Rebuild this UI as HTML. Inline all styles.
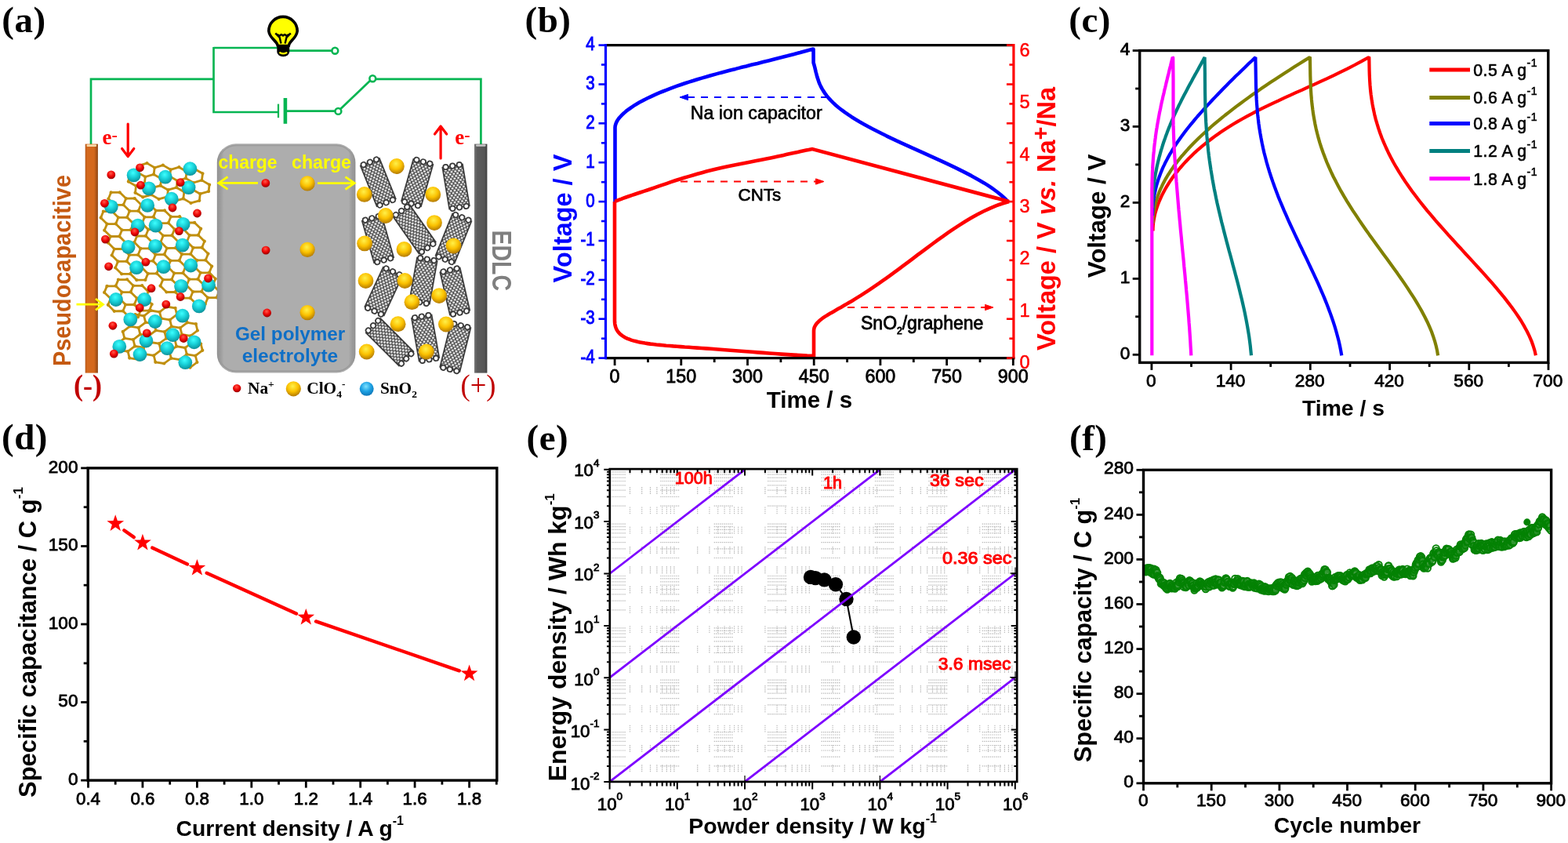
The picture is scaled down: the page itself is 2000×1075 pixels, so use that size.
<!DOCTYPE html>
<html lang="en">
<head>
<meta charset="utf-8">
<title>Na ion capacitor figure</title>
<style>html,body{margin:0;padding:0;background:#fff}body{width:2000px;height:1075px;overflow:hidden}svg{display:block}text{white-space:pre}</style>
</head>
<body>
<svg width="2000" height="1075" viewBox="0 0 2000 1075">
<defs><radialGradient id="gc" cx="0.45" cy="0.33" r="0.72"><stop offset="0" stop-color="#3dffff"/><stop offset="0.5" stop-color="#16ccd4"/><stop offset="1" stop-color="#0c8790"/></radialGradient>
<radialGradient id="gr" cx="0.45" cy="0.33" r="0.72"><stop offset="0" stop-color="#ff5a4a"/><stop offset="0.5" stop-color="#f00505"/><stop offset="1" stop-color="#860000"/></radialGradient>
<radialGradient id="gy" cx="0.45" cy="0.33" r="0.72"><stop offset="0" stop-color="#fff04a"/><stop offset="0.5" stop-color="#fbc100"/><stop offset="1" stop-color="#a86f00"/></radialGradient>
<radialGradient id="gb" cx="0.45" cy="0.33" r="0.72"><stop offset="0" stop-color="#7fe2ff"/><stop offset="0.5" stop-color="#1ea2e4"/><stop offset="1" stop-color="#0a6fb0"/></radialGradient>
<pattern id="hatch" width="4.8" height="6" patternUnits="userSpaceOnUse" x="-2.4" y="0"><rect width="4.8" height="6" fill="#424242"/><ellipse cx="2.4" cy="1.5" rx="1.55" ry="1.25" fill="#fff"/><ellipse cx="0" cy="4.5" rx="1.55" ry="1.25" fill="#fff"/><ellipse cx="4.8" cy="4.5" rx="1.55" ry="1.25" fill="#fff"/></pattern>
<linearGradient id="box" x1="0" y1="0" x2="1" y2="0"><stop offset="0" stop-color="#8c8c8c"/><stop offset="0.05" stop-color="#adadad"/><stop offset="0.95" stop-color="#adadad"/><stop offset="1" stop-color="#8c8c8c"/></linearGradient>
<linearGradient id="el" x1="0" y1="0" x2="1" y2="0"><stop offset="0" stop-color="#b5581a"/><stop offset="0.15" stop-color="#d4691e"/><stop offset="0.7" stop-color="#d4691e"/><stop offset="1" stop-color="#8d4513"/></linearGradient>
<linearGradient id="er" x1="0" y1="0" x2="1" y2="0"><stop offset="0" stop-color="#7a7a7a"/><stop offset="0.2" stop-color="#5c5c5c"/><stop offset="0.8" stop-color="#555"/><stop offset="1" stop-color="#3c3c3c"/></linearGradient></defs>
<rect width="2000" height="1075" fill="#fff"/>
<g id="panel-a">
<path d="M116 184V100.8H272.5M272.5 61H355M368 64.6H423.5M272.5 59.9V143H354.5M366 141.7H427.5M434 139.3L472.5 102.6M479 100.8H613.4V184" fill="none" stroke="#06b552" stroke-width="2.7"/>
<path d="M355 132.6V150.2" stroke="#06b552" stroke-width="2.2"/>
<path d="M363.9 125V157.8" stroke="#06b552" stroke-width="4.6"/>
<circle cx="427.3" cy="64.7" r="3.9" fill="#fff" stroke="#06b552" stroke-width="2.6"/>
<circle cx="431.4" cy="141.9" r="3.9" fill="#fff" stroke="#06b552" stroke-width="2.6"/>
<circle cx="475.3" cy="100.2" r="3.9" fill="#fff" stroke="#06b552" stroke-width="2.6"/>
<path d="M354.3 58.5C353.6 52 344 49.5 342.8 39.6A18.2 18.2 0 1 1 379.2 39.6C378 49.5 368.9 52 368.3 58.5Z" fill="#ffff00" stroke="#000" stroke-width="3.6" stroke-linejoin="round"/>
<path d="M353.3 57.5H369.2v8.8a7.9 5.8 0 0 1 -15.9 0Z" fill="#000"/>
<path d="M357.2 67.2q4 2.4 8.2 0" stroke="#ffff00" stroke-width="2.2" stroke-linecap="round" fill="none"/>
<path d="M351.3 42.3l5.4 5.6 1.8 7.6M370.8 42.3l-5.4 5.6 -1.8 7.6M352.5 43.5l4.3 2 2.1 -1.6 2.1 1.6 2.1 -1.6 2.1 1.6 4.3 -2" fill="none" stroke="#000" stroke-width="2.4" stroke-linejoin="round"/>
<rect x="108.7" y="183.6" width="16.2" height="292" fill="url(#el)"/>
<rect x="110.5" y="184.3" width="12.6" height="2.6" rx="1.2" fill="#f7d9a8"/>
<rect x="605" y="183.6" width="16.4" height="292" fill="url(#er)"/>
<rect x="607" y="184.3" width="12.6" height="2.4" rx="1.2" fill="#c8c8c8"/>
<text x="130.4" y="184.4" font-family='"Liberation Serif", serif' font-size="27" fill="#ff0000" font-weight="bold">e<tspan font-size="22" dy="-5.5">-</tspan></text>
<text x="580.2" y="184.2" font-family='"Liberation Serif", serif' font-size="27" fill="#ff0000" font-weight="bold">e<tspan font-size="22" dy="-5.5">-</tspan></text>
<path d="M163.2 158V199M155.6 189.5L163.2 199.6L170.8 189.5" fill="none" stroke="#ff0000" stroke-width="3.2" stroke-linejoin="round" stroke-linecap="round"/>
<path d="M562.1 202V161.5M554.5 171L562.1 161L569.7 171" fill="none" stroke="#ff0000" stroke-width="3.2" stroke-linejoin="round" stroke-linecap="round"/>
<text x="89.5" y="467" font-family='"Liberation Sans", sans-serif' font-size="31" fill="#c55a11" font-weight="bold" transform="rotate(-90 89.5 467)" textLength="244" lengthAdjust="spacingAndGlyphs">Pseudocapacitive</text>
<text x="628.3" y="293.5" font-family='"Liberation Sans", sans-serif' font-size="35" fill="#7f7f7f" font-weight="bold" transform="rotate(90 628.3 293.5)" textLength="77.5" lengthAdjust="spacingAndGlyphs">EDLC</text>
<text x="94" y="503.5" font-family='"Liberation Serif", serif' font-size="38" fill="#c00000" font-weight="bold" textLength="36" lengthAdjust="spacingAndGlyphs">(-)</text>
<text x="587.5" y="503.5" font-family='"Liberation Serif", serif' font-size="38" fill="#c00000" textLength="45" lengthAdjust="spacingAndGlyphs">(+)</text>
<path d="M97.5 388.2H130M122 381L131.5 388.2L122 395.4" fill="none" stroke="#ffff00" stroke-width="2.8"/>
<path d="M164.9 223L163.8 231.6M164.9 223L175.7 219.9M163.8 231.6L173.5 237.2M176.7 211.3L175.7 219.9M176.7 211.3L187.5 208.1M175.7 219.9L185.3 225.5M173.5 237.2L172.5 245.8M173.5 237.2L184.3 234M172.5 245.8L182.2 251.4M187.5 208.1L197.2 213.8M185.3 225.5L184.3 234M185.3 225.5L184.3 234.1M185.3 225.5L196.1 222.4M184.3 234L194 239.7M184.3 234.1L194 239.7M182.2 251.4L192.9 248.3M197.2 213.8L196.1 222.4M197.2 213.8L207.9 210.6M196.1 222.4L205.8 228M194 239.7L192.9 248.3M194 239.7L204.7 236.6M192.9 248.3L202.6 253.9M207.9 210.6L217.6 216.3M205.8 228L204.7 236.6M205.8 228L204.7 236.7M205.8 228L216.6 224.9M204.7 236.6L214.4 242.2M204.7 236.7L214.4 242.2M202.6 253.9L213.4 250.8M217.6 216.3L216.6 224.9M217.6 216.3L228.4 213.2M216.6 224.9L226.2 230.5M214.4 242.2L213.4 250.8M214.4 242.2L225.2 239.1M213.4 250.8L223.1 256.4M228.4 213.2L238.1 218.8M226.2 230.5L225.2 239.1M226.2 230.5L225.2 239.2M226.2 230.5L237 227.4M225.2 239.1L234.9 244.7M225.2 239.2L234.9 244.7M223.1 256.4L233.8 253.3M238.1 218.8L237 227.4M238.1 218.8L248.8 215.7M237 227.4L246.7 233M234.9 244.7L233.8 253.3M234.9 244.7L245.6 241.6M233.8 253.3L243.5 258.9M248.8 215.7L258.5 221.3M246.7 233L245.6 241.6M246.7 233L245.6 241.7M246.7 233L257.4 229.9M245.6 241.6L255.3 247.2M245.6 241.7L255.3 247.2M243.5 258.9L254.3 255.8M258.5 221.3L257.4 229.9M257.4 229.9L267.1 235.5M255.3 247.2L254.3 255.8M255.3 247.2L266.1 244.1M267.1 235.5L266.1 244.1M141.6 245.4L138.3 253.5M141.6 245.4L152.7 245.3M138.3 253.5L146.2 261.4M131.8 269.6L128.6 277.7M131.8 269.6L143 269.4M128.6 277.7L136.5 285.6M152.7 245.3L160.7 253.1M146.2 261.4L143 269.5M146.2 261.4L157.4 261.2M143 269.4L150.9 277.3M143 269.5L150.9 277.3M136.5 285.6L133.2 293.7M136.5 285.6L147.7 285.4M133.2 293.7L141.1 301.5M160.7 253.1L157.4 261.2M160.7 253.1L171.8 253M157.4 261.2L165.3 269.1M150.9 277.3L147.7 285.4M150.9 277.3L162.1 277.1M147.7 285.4L155.6 293.3M141.1 301.5L137.9 309.6M141.1 301.5L152.3 301.3M137.9 309.6L145.8 317.5M171.8 253L179.8 260.8M165.3 269.1L162.1 277.1M165.3 269.1L162.1 277.2M165.3 269.1L176.5 268.9M162.1 277.1L170 285M162.1 277.2L170 285M155.6 293.3L152.3 301.3M155.6 293.3L152.3 301.4M155.6 293.3L166.8 293.1M152.3 301.3L160.2 309.2M152.3 301.4L160.2 309.2M145.8 317.5L142.6 325.5M145.8 317.5L157 317.3M142.6 325.5L150.5 333.4M179.8 260.8L176.5 268.9M179.8 260.8L190.9 260.7M176.5 268.9L184.4 276.8M170 285L166.8 293.1M170 285L181.2 284.8M166.8 293.1L174.7 301M160.2 309.2L157 317.3M160.2 309.2L171.4 309M157 317.3L164.9 325.2M150.5 333.4L147.2 341.5M150.5 333.4L161.7 333.2M147.2 341.5L155.1 349.3M190.9 260.7L198.9 268.5M184.4 276.8L181.2 284.8M184.4 276.8L181.2 284.9M184.4 276.8L195.6 276.6M181.2 284.8L189.1 292.7M181.2 284.9L189.1 292.7M174.7 301L171.4 309M174.7 301L171.4 309.1M174.7 301L185.9 300.8M171.4 309L179.3 316.9M171.4 309.1L179.3 316.9M164.9 325.2L161.7 333.2M164.9 325.2L176.1 325M161.7 333.2L169.6 341.1M155.1 349.3L166.3 349.2M198.9 268.5L195.6 276.6M198.9 268.5L210 268.4M195.6 276.6L203.5 284.6M189.1 292.7L185.9 300.8M189.1 292.7L200.3 292.5M185.9 300.8L193.8 308.8M179.3 316.9L176.1 325M179.3 316.9L190.5 316.7M176.1 325L184 333M169.6 341.1L166.3 349.2M169.6 341.1L180.8 340.9M166.3 349.2L174.2 357.1M210 268.4L218 276.3M203.5 284.6L200.3 292.5M203.5 284.6L200.3 292.6M203.5 284.6L214.7 284.3M200.3 292.5L208.2 300.5M200.3 292.6L208.2 300.5M193.8 308.8L190.5 316.7M193.8 308.8L190.5 316.8M193.8 308.8L205 308.5M190.5 316.7L198.4 324.7M190.5 316.8L198.4 324.7M184 333L180.8 340.9M184 333L195.2 332.7M180.8 340.9L188.7 348.9M174.2 357.1L185.4 356.9M218 276.3L214.7 284.3M218 276.3L229.1 276.1M214.7 284.3L222.6 292.3M208.2 300.5L205 308.5M208.2 300.5L219.4 300.2M205 308.5L212.9 316.5M198.4 324.7L195.2 332.7M198.4 324.7L209.6 324.4M195.2 332.7L203.1 340.7M188.7 348.9L185.4 356.9M188.7 348.9L199.9 348.6M229.1 276.1L237.1 284M222.6 292.3L219.4 300.2M222.6 292.3L219.4 300.3M222.6 292.3L233.8 292M219.4 300.2L227.3 308.2M219.4 300.3L227.3 308.2M212.9 316.5L209.6 324.4M212.9 316.5L209.6 324.5M212.9 316.5L224.1 316.2M209.6 324.4L217.5 332.4M209.6 324.5L217.5 332.4M203.1 340.7L199.9 348.6M203.1 340.7L214.3 340.4M199.9 348.6L207.8 356.6M237.1 284L233.8 292M237.1 284L248.2 283.9M233.8 292L241.7 300M227.3 308.2L224.1 316.2M227.3 308.2L238.5 308M224.1 316.2L232 324.2M217.5 332.4L214.3 340.4M217.5 332.4L228.7 332.2M214.3 340.4L222.2 348.4M207.8 356.6L204.5 364.6M207.8 356.6L219 356.4M204.5 364.6L212.4 372.5M248.2 283.9L256.2 291.7M241.7 300L238.5 308M241.7 300L238.5 308.1M241.7 300L252.9 299.8M238.5 308L246.4 315.9M238.5 308.1L246.4 315.9M232 324.2L228.7 332.2M232 324.2L228.7 332.3M232 324.2L243.2 324M228.7 332.2L236.6 340.1M228.7 332.3L236.6 340.1M222.2 348.4L219 356.4M222.2 348.4L233.4 348.2M219 356.4L226.9 364.3M212.4 372.5L223.6 372.4M256.2 291.7L252.9 299.8M252.9 299.8L260.8 307.7M246.4 315.9L243.2 324M246.4 315.9L257.6 315.7M243.2 324L251.1 331.9M236.6 340.1L233.4 348.2M236.6 340.1L247.8 339.9M233.4 348.2L241.3 356.1M226.9 364.3L223.6 372.4M226.9 364.3L238.1 364.1M223.6 372.4L231.5 380.2M260.8 307.7L257.6 315.7M257.6 315.7L265.5 323.6M251.1 331.9L247.8 339.9M251.1 331.9L247.8 340M251.1 331.9L262.3 331.7M247.8 339.9L255.7 347.8M247.8 340L255.7 347.8M241.3 356.1L238.1 364.1M241.3 356.1L252.5 355.9M238.1 364.1L246 372M231.5 380.2L242.7 380.1M265.5 323.6L262.3 331.7M262.3 331.7L270.2 339.6M255.7 347.8L252.5 355.9M255.7 347.8L266.9 347.6M252.5 355.9L260.4 363.8M246 372L242.7 380.1M246 372L257.2 371.8M242.7 380.1L250.6 387.9M270.2 339.6L266.9 347.6M266.9 347.6L274.8 355.5M260.4 363.8L257.2 371.8M260.4 363.8L271.6 363.6M257.2 371.8L265.1 379.7M250.6 387.9L261.8 387.8M274.8 355.5L271.6 363.6M271.6 363.6L279.5 371.5M265.1 379.7L261.8 387.8M265.1 379.7L276.3 379.5M279.5 371.5L276.3 379.5M136.4 364.9L133.1 372.9M136.4 364.9L147.6 364.6M133.1 372.9L141.1 380.8M150.9 356.6L147.6 364.6M150.9 356.6L162.1 356.3M147.6 364.6L155.5 372.6M141.1 380.8L137.8 388.8M141.1 380.8L152.3 380.5M137.8 388.8L145.7 396.8M162.1 356.3L170 364.3M155.5 372.6L152.3 380.5M155.5 372.6L152.2 380.6M155.5 372.6L166.7 372.4M152.3 380.5L160.2 388.5M152.2 380.6L160.2 388.5M145.7 396.8L156.9 396.5M170 364.3L166.7 372.4M170 364.3L181.2 364.1M166.7 372.4L174.6 380.3M160.2 388.5L156.9 396.5M160.2 388.5L171.4 388.3M156.9 396.5L164.8 404.5M181.2 364.1L189.1 372M174.6 380.3L171.4 388.3M174.6 380.3L171.3 388.4M174.6 380.3L185.8 380.1M171.4 388.3L179.3 396.2M171.3 388.4L179.3 396.2M164.8 404.5L176 404.3M189.1 372L185.8 380.1M185.8 380.1L193.7 388M179.3 396.2L176 404.3M179.3 396.2L190.5 396M193.7 388L190.5 396M149.9 438.1L152 446.5M149.9 438.1L158.8 431.3M152 446.5L163.1 448.2M156.7 422.9L158.8 431.3M156.7 422.9L165.7 416.1M158.8 431.3L169.9 433.1M163.1 448.2L165.2 456.6M163.1 448.2L172 441.4M165.2 456.6L176.2 458.4M163.6 407.8L165.7 416.2M163.6 407.8L172.5 401M165.7 416.1L176.7 417.9M165.7 416.2L176.7 417.9M169.9 433.1L172 441.4M169.9 433.1L172 441.5M169.9 433.1L178.8 426.3M172 441.4L183 443.2M172 441.5L183 443.2M176.2 458.4L185.1 451.6M172.5 401L183.6 402.8M176.7 417.9L178.8 426.3M176.7 417.9L185.7 411.1M178.8 426.3L189.9 428.1M183 443.2L185.1 451.6M183 443.2L192 436.4M185.1 451.6L196.2 453.4M183.6 402.8L185.7 411.1M183.6 402.8L185.7 411.2M183.6 402.8L192.5 396M185.7 411.1L196.7 412.9M185.7 411.2L196.7 412.9M189.9 428.1L192 436.4M189.9 428.1L192 436.5M189.9 428.1L198.8 421.3M192 436.4L203 438.2M192 436.5L203 438.2M196.2 453.4L198.3 461.8M196.2 453.4L205.1 446.7M198.3 461.8L209.3 463.5M192.5 396L203.6 397.8M196.7 412.9L198.8 421.3M196.7 412.9L205.6 406.1M198.8 421.3L209.9 423.1M203 438.2L205.1 446.7M203 438.2L212 431.5M205.1 446.7L216.2 448.4M209.3 463.5L218.3 456.8M203.6 397.8L205.6 406.1M203.6 397.8L205.7 406.2M203.6 397.8L212.5 391M205.6 406.1L216.7 407.9M205.7 406.2L216.7 407.9M209.9 423.1L212 431.5M209.9 423.1L212 431.6M209.9 423.1L218.8 416.4M212 431.5L223 433.2M212 431.6L223 433.2M216.2 448.4L218.3 456.8M216.2 448.4L225.1 441.7M218.3 456.8L229.3 458.6M212.5 391L223.6 392.8M216.7 407.9L218.8 416.4M216.7 407.9L225.6 401.2M218.8 416.4L229.9 418.1M223 433.2L225.1 441.7M223 433.2L231.9 426.5M225.1 441.7L236.2 443.5M229.3 458.6L231.4 467M229.3 458.6L238.3 451.8M231.4 467L242.5 468.7M223.6 392.8L225.6 401.2M225.6 401.2L236.7 402.9M229.9 418.1L231.9 426.5M229.9 418.1L232 426.6M229.9 418.1L238.8 411.4M231.9 426.5L243 428.3M232 426.6L243 428.3M236.2 443.5L238.3 451.8M236.2 443.5L245.1 436.7M238.3 451.8L249.3 453.6M242.5 468.7L251.4 462M236.7 402.9L238.8 411.4M238.8 411.4L249.9 413.1M243 428.3L245.1 436.7M243 428.3L251.9 421.5M245.1 436.7L256.2 438.5M249.3 453.6L251.4 462M249.3 453.6L258.3 446.8M249.9 413.1L251.9 421.5M256.2 438.5L258.3 446.8" fill="none" stroke="#c08f0e" stroke-width="2.8" stroke-linecap="round"/>
<path d="M164.9 223h0M163.8 231.6h0M176.7 211.3h0M175.7 219.9h0M173.5 237.2h0M172.5 245.8h0M187.5 208.1h0M185.3 225.5h0M184.3 234h0M184.3 234.1h0M182.2 251.4h0M197.2 213.8h0M196.1 222.4h0M194 239.7h0M192.9 248.3h0M207.9 210.6h0M205.8 228h0M204.7 236.6h0M204.7 236.7h0M202.6 253.9h0M217.6 216.3h0M216.6 224.9h0M214.4 242.2h0M213.4 250.8h0M228.4 213.2h0M226.2 230.5h0M225.2 239.1h0M225.2 239.2h0M223.1 256.4h0M238.1 218.8h0M237 227.4h0M234.9 244.7h0M233.8 253.3h0M248.8 215.7h0M246.7 233h0M245.6 241.6h0M245.6 241.7h0M243.5 258.9h0M258.5 221.3h0M257.4 229.9h0M255.3 247.2h0M254.3 255.8h0M267.1 235.5h0M266.1 244.1h0M141.6 245.4h0M138.3 253.5h0M131.8 269.6h0M128.6 277.7h0M152.7 245.3h0M146.2 261.4h0M143 269.4h0M143 269.5h0M136.5 285.6h0M133.2 293.7h0M160.7 253.1h0M157.4 261.2h0M150.9 277.3h0M147.7 285.4h0M141.1 301.5h0M137.9 309.6h0M171.8 253h0M165.3 269.1h0M162.1 277.1h0M162.1 277.2h0M155.6 293.3h0M152.3 301.3h0M152.3 301.4h0M145.8 317.5h0M142.6 325.5h0M179.8 260.8h0M176.5 268.9h0M170 285h0M166.8 293.1h0M160.2 309.2h0M157 317.3h0M150.5 333.4h0M147.2 341.5h0M190.9 260.7h0M184.4 276.8h0M181.2 284.8h0M181.2 284.9h0M174.7 301h0M171.4 309h0M171.4 309.1h0M164.9 325.2h0M161.7 333.2h0M155.1 349.3h0M198.9 268.5h0M195.6 276.6h0M189.1 292.7h0M185.9 300.8h0M179.3 316.9h0M176.1 325h0M169.6 341.1h0M166.3 349.2h0M210 268.4h0M203.5 284.6h0M200.3 292.5h0M200.3 292.6h0M193.8 308.8h0M190.5 316.7h0M190.5 316.8h0M184 333h0M180.8 340.9h0M174.2 357.1h0M218 276.3h0M214.7 284.3h0M208.2 300.5h0M205 308.5h0M198.4 324.7h0M195.2 332.7h0M188.7 348.9h0M185.4 356.9h0M229.1 276.1h0M222.6 292.3h0M219.4 300.2h0M219.4 300.3h0M212.9 316.5h0M209.6 324.4h0M209.6 324.5h0M203.1 340.7h0M199.9 348.6h0M237.1 284h0M233.8 292h0M227.3 308.2h0M224.1 316.2h0M217.5 332.4h0M214.3 340.4h0M207.8 356.6h0M204.5 364.6h0M248.2 283.9h0M241.7 300h0M238.5 308h0M238.5 308.1h0M232 324.2h0M228.7 332.2h0M228.7 332.3h0M222.2 348.4h0M219 356.4h0M212.4 372.5h0M256.2 291.7h0M252.9 299.8h0M246.4 315.9h0M243.2 324h0M236.6 340.1h0M233.4 348.2h0M226.9 364.3h0M223.6 372.4h0M260.8 307.7h0M257.6 315.7h0M251.1 331.9h0M247.8 339.9h0M247.8 340h0M241.3 356.1h0M238.1 364.1h0M231.5 380.2h0M265.5 323.6h0M262.3 331.7h0M255.7 347.8h0M252.5 355.9h0M246 372h0M242.7 380.1h0M270.2 339.6h0M266.9 347.6h0M260.4 363.8h0M257.2 371.8h0M250.6 387.9h0M274.8 355.5h0M271.6 363.6h0M265.1 379.7h0M261.8 387.8h0M279.5 371.5h0M276.3 379.5h0M136.4 364.9h0M133.1 372.9h0M150.9 356.6h0M147.6 364.6h0M141.1 380.8h0M137.8 388.8h0M162.1 356.3h0M155.5 372.6h0M152.3 380.5h0M152.2 380.6h0M145.7 396.8h0M170 364.3h0M166.7 372.4h0M160.2 388.5h0M156.9 396.5h0M181.2 364.1h0M174.6 380.3h0M171.4 388.3h0M171.3 388.4h0M164.8 404.5h0M189.1 372h0M185.8 380.1h0M179.3 396.2h0M176 404.3h0M193.7 388h0M190.5 396h0M149.9 438.1h0M152 446.5h0M156.7 422.9h0M158.8 431.3h0M163.1 448.2h0M165.2 456.6h0M163.6 407.8h0M165.7 416.1h0M165.7 416.2h0M169.9 433.1h0M172 441.4h0M172 441.5h0M176.2 458.4h0M172.5 401h0M176.7 417.9h0M178.8 426.3h0M183 443.2h0M185.1 451.6h0M183.6 402.8h0M185.7 411.1h0M185.7 411.2h0M189.9 428.1h0M192 436.4h0M192 436.5h0M196.2 453.4h0M198.3 461.8h0M192.5 396h0M196.7 412.9h0M198.8 421.3h0M203 438.2h0M205.1 446.7h0M209.3 463.5h0M203.6 397.8h0M205.6 406.1h0M205.7 406.2h0M209.9 423.1h0M212 431.5h0M212 431.6h0M216.2 448.4h0M218.3 456.8h0M212.5 391h0M216.7 407.9h0M218.8 416.4h0M223 433.2h0M225.1 441.7h0M229.3 458.6h0M231.4 467h0M223.6 392.8h0M225.6 401.2h0M229.9 418.1h0M231.9 426.5h0M232 426.6h0M236.2 443.5h0M238.3 451.8h0M242.5 468.7h0M236.7 402.9h0M238.8 411.4h0M243 428.3h0M245.1 436.7h0M249.3 453.6h0M251.4 462h0M249.9 413.1h0M251.9 421.5h0M256.2 438.5h0M258.3 446.8h0" fill="none" stroke="#c08f0e" stroke-width="4.2" stroke-linecap="round"/>
<circle cx="170.6" cy="223.4" r="8.9" fill="url(#gc)"/>
<circle cx="242.4" cy="215.2" r="8.9" fill="url(#gc)"/>
<circle cx="210.9" cy="225.7" r="8.9" fill="url(#gc)"/>
<circle cx="189.9" cy="240.4" r="8.9" fill="url(#gc)"/>
<circle cx="240.6" cy="239.1" r="8.9" fill="url(#gc)"/>
<circle cx="218.8" cy="253.7" r="8.9" fill="url(#gc)"/>
<circle cx="188.1" cy="261.9" r="8.9" fill="url(#gc)"/>
<circle cx="141.8" cy="263.6" r="8.9" fill="url(#gc)"/>
<circle cx="175.9" cy="287.6" r="8.9" fill="url(#gc)"/>
<circle cx="198.6" cy="287.6" r="8.9" fill="url(#gc)"/>
<circle cx="233.6" cy="285.9" r="8.9" fill="url(#gc)"/>
<circle cx="163.6" cy="314.9" r="8.9" fill="url(#gc)"/>
<circle cx="198.1" cy="313.9" r="8.9" fill="url(#gc)"/>
<circle cx="232.8" cy="312.6" r="8.9" fill="url(#gc)"/>
<circle cx="174.1" cy="341.2" r="8.9" fill="url(#gc)"/>
<circle cx="208.6" cy="340.2" r="8.9" fill="url(#gc)"/>
<circle cx="243.3" cy="338.5" r="8.9" fill="url(#gc)"/>
<circle cx="231" cy="364.9" r="8.9" fill="url(#gc)"/>
<circle cx="266" cy="363.6" r="8.9" fill="url(#gc)"/>
<circle cx="147.9" cy="382" r="8.9" fill="url(#gc)"/>
<circle cx="184.1" cy="382" r="8.9" fill="url(#gc)"/>
<circle cx="253.8" cy="390.4" r="8.9" fill="url(#gc)"/>
<circle cx="166.3" cy="407.4" r="8.9" fill="url(#gc)"/>
<circle cx="197.8" cy="410" r="8.9" fill="url(#gc)"/>
<circle cx="232.8" cy="402.7" r="8.9" fill="url(#gc)"/>
<circle cx="220.5" cy="427.2" r="8.9" fill="url(#gc)"/>
<circle cx="186.4" cy="434.5" r="8.9" fill="url(#gc)"/>
<circle cx="247.6" cy="436.3" r="8.9" fill="url(#gc)"/>
<circle cx="152.3" cy="441.9" r="8.9" fill="url(#gc)"/>
<circle cx="213.2" cy="444.1" r="8.9" fill="url(#gc)"/>
<circle cx="178.5" cy="452" r="8.9" fill="url(#gc)"/>
<circle cx="236.3" cy="462.2" r="8.9" fill="url(#gc)"/>
<circle cx="141.8" cy="222.9" r="5.4" fill="url(#gr)"/>
<circle cx="178.5" cy="213.8" r="5.4" fill="url(#gr)"/>
<circle cx="179.4" cy="236.2" r="5.4" fill="url(#gr)"/>
<circle cx="230.1" cy="232.7" r="5.4" fill="url(#gr)"/>
<circle cx="133.4" cy="259.3" r="5.4" fill="url(#gr)"/>
<circle cx="220" cy="265" r="5.4" fill="url(#gr)"/>
<circle cx="251.5" cy="272" r="5.4" fill="url(#gr)"/>
<circle cx="172" cy="296" r="5.4" fill="url(#gr)"/>
<circle cx="228.4" cy="294.6" r="5.4" fill="url(#gr)"/>
<circle cx="134.4" cy="305.1" r="5.4" fill="url(#gr)"/>
<circle cx="185.9" cy="334.2" r="5.4" fill="url(#gr)"/>
<circle cx="138.6" cy="339.8" r="5.4" fill="url(#gr)"/>
<circle cx="265.5" cy="355" r="5.4" fill="url(#gr)"/>
<circle cx="193" cy="367.7" r="5.4" fill="url(#gr)"/>
<circle cx="230.1" cy="378.5" r="5.4" fill="url(#gr)"/>
<circle cx="211.8" cy="388.1" r="5.4" fill="url(#gr)"/>
<circle cx="178.2" cy="392.5" r="5.4" fill="url(#gr)"/>
<circle cx="143.9" cy="415.3" r="5.4" fill="url(#gr)"/>
<circle cx="187.3" cy="424.9" r="5.4" fill="url(#gr)"/>
<circle cx="234.2" cy="431.5" r="5.4" fill="url(#gr)"/>
<circle cx="145.3" cy="451.1" r="5.4" fill="url(#gr)"/>
<rect x="276.8" y="183.3" width="176.6" height="292.2" rx="24" fill="url(#box)"/>
<rect x="279" y="185.5" width="172.2" height="287.8" rx="22" fill="none" stroke="#9a9a9a" stroke-width="1.5"/>
<text x="278.4" y="215.3" font-family='"Liberation Sans", sans-serif' font-size="23.5" fill="#ffff00" font-weight="bold" textLength="75.2" lengthAdjust="spacingAndGlyphs">charge</text>
<text x="372" y="215.3" font-family='"Liberation Sans", sans-serif' font-size="23.5" fill="#ffff00" font-weight="bold" textLength="76" lengthAdjust="spacingAndGlyphs">charge</text>
<path d="M329 233.4H279.5M290.5 225.5L278.8 233.4L290.5 241.3" fill="none" stroke="#ffff00" stroke-width="2.8"/>
<path d="M405 233.6H451.5M440.5 225.7L452.2 233.6L440.5 241.5" fill="none" stroke="#ffff00" stroke-width="2.8"/>
<circle cx="338.8" cy="233.4" r="5.4" fill="url(#gr)"/>
<circle cx="339.1" cy="319.1" r="5.4" fill="url(#gr)"/>
<circle cx="340.6" cy="399" r="5.4" fill="url(#gr)"/>
<circle cx="392.1" cy="233.9" r="9.6" fill="url(#gy)"/>
<circle cx="392.1" cy="318.4" r="9.6" fill="url(#gy)"/>
<circle cx="392.1" cy="398.6" r="9.6" fill="url(#gy)"/>
<text x="299.9" y="433.6" font-family='"Liberation Sans", sans-serif' font-size="23" fill="#0f6fc6" font-weight="bold" textLength="140.4" lengthAdjust="spacingAndGlyphs">Gel polymer</text>
<text x="308.7" y="462.4" font-family='"Liberation Sans", sans-serif' font-size="23" fill="#0f6fc6" font-weight="bold" textLength="122.5" lengthAdjust="spacingAndGlyphs">electrolyte</text>
<circle cx="582" cy="249.6" r="8" fill="url(#gy)"/>
<g transform="translate(482.3 232.5) rotate(-22)"><rect x="-13" y="-27.8" width="26" height="55.6" fill="url(#hatch)" stroke="#3a3a3a" stroke-width="1.7"/><circle cx="-8.8" cy="-27.8" r="3.2" fill="#fff" stroke="#3a3a3a" stroke-width="1.7"/><circle cx="0" cy="-27.8" r="3.2" fill="#fff" stroke="#3a3a3a" stroke-width="1.7"/><circle cx="8.8" cy="-27.8" r="3.2" fill="#fff" stroke="#3a3a3a" stroke-width="1.7"/><circle cx="-8.8" cy="27.8" r="3.2" fill="#fff" stroke="#3a3a3a" stroke-width="1.7"/><circle cx="0" cy="27.8" r="3.2" fill="#fff" stroke="#3a3a3a" stroke-width="1.7"/><circle cx="8.8" cy="27.8" r="3.2" fill="#fff" stroke="#3a3a3a" stroke-width="1.7"/></g>
<g transform="translate(532.2 233) rotate(16)"><rect x="-13" y="-27.8" width="26" height="55.6" fill="url(#hatch)" stroke="#3a3a3a" stroke-width="1.7"/><circle cx="-8.8" cy="-27.8" r="3.2" fill="#fff" stroke="#3a3a3a" stroke-width="1.7"/><circle cx="0" cy="-27.8" r="3.2" fill="#fff" stroke="#3a3a3a" stroke-width="1.7"/><circle cx="8.8" cy="-27.8" r="3.2" fill="#fff" stroke="#3a3a3a" stroke-width="1.7"/><circle cx="-8.8" cy="27.8" r="3.2" fill="#fff" stroke="#3a3a3a" stroke-width="1.7"/><circle cx="0" cy="27.8" r="3.2" fill="#fff" stroke="#3a3a3a" stroke-width="1.7"/><circle cx="8.8" cy="27.8" r="3.2" fill="#fff" stroke="#3a3a3a" stroke-width="1.7"/></g>
<g transform="translate(581.6 238) rotate(-9.5)"><rect x="-13" y="-26.8" width="26" height="53.6" fill="url(#hatch)" stroke="#3a3a3a" stroke-width="1.7"/><circle cx="-8.8" cy="-26.8" r="3.2" fill="#fff" stroke="#3a3a3a" stroke-width="1.7"/><circle cx="0" cy="-26.8" r="3.2" fill="#fff" stroke="#3a3a3a" stroke-width="1.7"/><circle cx="8.8" cy="-26.8" r="3.2" fill="#fff" stroke="#3a3a3a" stroke-width="1.7"/><circle cx="-8.8" cy="26.8" r="3.2" fill="#fff" stroke="#3a3a3a" stroke-width="1.7"/><circle cx="0" cy="26.8" r="3.2" fill="#fff" stroke="#3a3a3a" stroke-width="1.7"/><circle cx="8.8" cy="26.8" r="3.2" fill="#fff" stroke="#3a3a3a" stroke-width="1.7"/></g>
<g transform="translate(528.6 292.5) rotate(-35)"><rect x="-13" y="-28.8" width="26" height="57.6" fill="url(#hatch)" stroke="#3a3a3a" stroke-width="1.7"/><circle cx="-8.8" cy="-28.8" r="3.2" fill="#fff" stroke="#3a3a3a" stroke-width="1.7"/><circle cx="0" cy="-28.8" r="3.2" fill="#fff" stroke="#3a3a3a" stroke-width="1.7"/><circle cx="8.8" cy="-28.8" r="3.2" fill="#fff" stroke="#3a3a3a" stroke-width="1.7"/><circle cx="-8.8" cy="28.8" r="3.2" fill="#fff" stroke="#3a3a3a" stroke-width="1.7"/><circle cx="0" cy="28.8" r="3.2" fill="#fff" stroke="#3a3a3a" stroke-width="1.7"/><circle cx="8.8" cy="28.8" r="3.2" fill="#fff" stroke="#3a3a3a" stroke-width="1.7"/></g>
<g transform="translate(482 305) rotate(-16)"><rect x="-13" y="-27.8" width="26" height="55.6" fill="url(#hatch)" stroke="#3a3a3a" stroke-width="1.7"/><circle cx="-8.8" cy="-27.8" r="3.2" fill="#fff" stroke="#3a3a3a" stroke-width="1.7"/><circle cx="0" cy="-27.8" r="3.2" fill="#fff" stroke="#3a3a3a" stroke-width="1.7"/><circle cx="8.8" cy="-27.8" r="3.2" fill="#fff" stroke="#3a3a3a" stroke-width="1.7"/><circle cx="-8.8" cy="27.8" r="3.2" fill="#fff" stroke="#3a3a3a" stroke-width="1.7"/><circle cx="0" cy="27.8" r="3.2" fill="#fff" stroke="#3a3a3a" stroke-width="1.7"/><circle cx="8.8" cy="27.8" r="3.2" fill="#fff" stroke="#3a3a3a" stroke-width="1.7"/></g>
<g transform="translate(578.5 304) rotate(22)"><rect x="-13" y="-28.8" width="26" height="57.6" fill="url(#hatch)" stroke="#3a3a3a" stroke-width="1.7"/><circle cx="-8.8" cy="-28.8" r="3.2" fill="#fff" stroke="#3a3a3a" stroke-width="1.7"/><circle cx="0" cy="-28.8" r="3.2" fill="#fff" stroke="#3a3a3a" stroke-width="1.7"/><circle cx="8.8" cy="-28.8" r="3.2" fill="#fff" stroke="#3a3a3a" stroke-width="1.7"/><circle cx="-8.8" cy="28.8" r="3.2" fill="#fff" stroke="#3a3a3a" stroke-width="1.7"/><circle cx="0" cy="28.8" r="3.2" fill="#fff" stroke="#3a3a3a" stroke-width="1.7"/><circle cx="8.8" cy="28.8" r="3.2" fill="#fff" stroke="#3a3a3a" stroke-width="1.7"/></g>
<g transform="translate(489.3 371.5) rotate(25)"><rect x="-13.5" y="-27.8" width="27" height="55.6" fill="url(#hatch)" stroke="#3a3a3a" stroke-width="1.7"/><circle cx="-9.3" cy="-27.8" r="3.2" fill="#fff" stroke="#3a3a3a" stroke-width="1.7"/><circle cx="0" cy="-27.8" r="3.2" fill="#fff" stroke="#3a3a3a" stroke-width="1.7"/><circle cx="9.3" cy="-27.8" r="3.2" fill="#fff" stroke="#3a3a3a" stroke-width="1.7"/><circle cx="-9.3" cy="27.8" r="3.2" fill="#fff" stroke="#3a3a3a" stroke-width="1.7"/><circle cx="0" cy="27.8" r="3.2" fill="#fff" stroke="#3a3a3a" stroke-width="1.7"/><circle cx="9.3" cy="27.8" r="3.2" fill="#fff" stroke="#3a3a3a" stroke-width="1.7"/></g>
<g transform="translate(540 358) rotate(10)"><rect x="-13" y="-27.8" width="26" height="55.6" fill="url(#hatch)" stroke="#3a3a3a" stroke-width="1.7"/><circle cx="-8.8" cy="-27.8" r="3.2" fill="#fff" stroke="#3a3a3a" stroke-width="1.7"/><circle cx="0" cy="-27.8" r="3.2" fill="#fff" stroke="#3a3a3a" stroke-width="1.7"/><circle cx="8.8" cy="-27.8" r="3.2" fill="#fff" stroke="#3a3a3a" stroke-width="1.7"/><circle cx="-8.8" cy="27.8" r="3.2" fill="#fff" stroke="#3a3a3a" stroke-width="1.7"/><circle cx="0" cy="27.8" r="3.2" fill="#fff" stroke="#3a3a3a" stroke-width="1.7"/><circle cx="8.8" cy="27.8" r="3.2" fill="#fff" stroke="#3a3a3a" stroke-width="1.7"/></g>
<g transform="translate(580.3 371.5) rotate(-13)"><rect x="-13" y="-27.8" width="26" height="55.6" fill="url(#hatch)" stroke="#3a3a3a" stroke-width="1.7"/><circle cx="-8.8" cy="-27.8" r="3.2" fill="#fff" stroke="#3a3a3a" stroke-width="1.7"/><circle cx="0" cy="-27.8" r="3.2" fill="#fff" stroke="#3a3a3a" stroke-width="1.7"/><circle cx="8.8" cy="-27.8" r="3.2" fill="#fff" stroke="#3a3a3a" stroke-width="1.7"/><circle cx="-8.8" cy="27.8" r="3.2" fill="#fff" stroke="#3a3a3a" stroke-width="1.7"/><circle cx="0" cy="27.8" r="3.2" fill="#fff" stroke="#3a3a3a" stroke-width="1.7"/><circle cx="8.8" cy="27.8" r="3.2" fill="#fff" stroke="#3a3a3a" stroke-width="1.7"/></g>
<g transform="translate(497.1 436.3) rotate(-45)"><rect x="-13" y="-29.8" width="26" height="59.6" fill="url(#hatch)" stroke="#3a3a3a" stroke-width="1.7"/><circle cx="-8.8" cy="-29.8" r="3.2" fill="#fff" stroke="#3a3a3a" stroke-width="1.7"/><circle cx="0" cy="-29.8" r="3.2" fill="#fff" stroke="#3a3a3a" stroke-width="1.7"/><circle cx="8.8" cy="-29.8" r="3.2" fill="#fff" stroke="#3a3a3a" stroke-width="1.7"/><circle cx="-8.8" cy="29.8" r="3.2" fill="#fff" stroke="#3a3a3a" stroke-width="1.7"/><circle cx="0" cy="29.8" r="3.2" fill="#fff" stroke="#3a3a3a" stroke-width="1.7"/><circle cx="8.8" cy="29.8" r="3.2" fill="#fff" stroke="#3a3a3a" stroke-width="1.7"/></g>
<g transform="translate(542.6 431) rotate(-10)"><rect x="-13" y="-27.8" width="26" height="55.6" fill="url(#hatch)" stroke="#3a3a3a" stroke-width="1.7"/><circle cx="-8.8" cy="-27.8" r="3.2" fill="#fff" stroke="#3a3a3a" stroke-width="1.7"/><circle cx="0" cy="-27.8" r="3.2" fill="#fff" stroke="#3a3a3a" stroke-width="1.7"/><circle cx="8.8" cy="-27.8" r="3.2" fill="#fff" stroke="#3a3a3a" stroke-width="1.7"/><circle cx="-8.8" cy="27.8" r="3.2" fill="#fff" stroke="#3a3a3a" stroke-width="1.7"/><circle cx="0" cy="27.8" r="3.2" fill="#fff" stroke="#3a3a3a" stroke-width="1.7"/><circle cx="8.8" cy="27.8" r="3.2" fill="#fff" stroke="#3a3a3a" stroke-width="1.7"/></g>
<g transform="translate(580.8 443) rotate(14)"><rect x="-13" y="-28.8" width="26" height="57.6" fill="url(#hatch)" stroke="#3a3a3a" stroke-width="1.7"/><circle cx="-8.8" cy="-28.8" r="3.2" fill="#fff" stroke="#3a3a3a" stroke-width="1.7"/><circle cx="0" cy="-28.8" r="3.2" fill="#fff" stroke="#3a3a3a" stroke-width="1.7"/><circle cx="8.8" cy="-28.8" r="3.2" fill="#fff" stroke="#3a3a3a" stroke-width="1.7"/><circle cx="-8.8" cy="28.8" r="3.2" fill="#fff" stroke="#3a3a3a" stroke-width="1.7"/><circle cx="0" cy="28.8" r="3.2" fill="#fff" stroke="#3a3a3a" stroke-width="1.7"/><circle cx="8.8" cy="28.8" r="3.2" fill="#fff" stroke="#3a3a3a" stroke-width="1.7"/></g>
<circle cx="505.9" cy="212" r="9.9" fill="url(#gy)"/>
<circle cx="464.8" cy="247.9" r="9.9" fill="url(#gy)"/>
<circle cx="552.3" cy="247.9" r="9.9" fill="url(#gy)"/>
<circle cx="491.9" cy="275" r="9.9" fill="url(#gy)"/>
<circle cx="554" cy="284.1" r="9.9" fill="url(#gy)"/>
<circle cx="465.1" cy="310.4" r="9.9" fill="url(#gy)"/>
<circle cx="515.5" cy="317.9" r="9.9" fill="url(#gy)"/>
<circle cx="578.5" cy="313.5" r="9.9" fill="url(#gy)"/>
<circle cx="466.5" cy="358" r="9.9" fill="url(#gy)"/>
<circle cx="516.4" cy="358" r="9.9" fill="url(#gy)"/>
<circle cx="560.1" cy="377.1" r="9.9" fill="url(#gy)"/>
<circle cx="525.5" cy="385.2" r="9.9" fill="url(#gy)"/>
<circle cx="507.6" cy="413.2" r="9.9" fill="url(#gy)"/>
<circle cx="568.9" cy="413.5" r="9.9" fill="url(#gy)"/>
<circle cx="467.7" cy="448.5" r="9.9" fill="url(#gy)"/>
<circle cx="543.9" cy="448.5" r="9.9" fill="url(#gy)"/>
<circle cx="302.2" cy="495.1" r="5.2" fill="url(#gr)"/>
<text x="316" y="502" font-family='"Liberation Serif", serif' font-size="21.3" fill="#000" font-weight="bold">Na<tspan font-size="13.5" dy="-8">+</tspan></text>
<circle cx="374.3" cy="495.8" r="9.6" fill="url(#gy)"/>
<text x="391.3" y="502" font-family='"Liberation Serif", serif' font-size="21.3" fill="#000" font-weight="bold">ClO<tspan font-size="13.5" dy="4.5">4</tspan><tspan font-size="13.5" dy="-12.5">-</tspan></text>
<circle cx="467.7" cy="495.8" r="9" fill="url(#gb)"/>
<text x="484.9" y="502" font-family='"Liberation Serif", serif' font-size="21.3" fill="#000" font-weight="bold">SnO<tspan font-size="13.5" dy="4.5">2</tspan></text>
</g>
<g id="panel-b">
<path d="M784.5 257 L784.5 163 L784.6 161.6 L784.8 160.2 L785.2 158.8 L785.7 157.3 L786.3 155.8 L787.1 154.3 L788.1 152.8 L789.1 151.3 L790.4 149.7 L791.8 148.2 L793.3 146.6 L795 145 L796.8 143.4 L798.7 141.7 L800.8 140.1 L803.1 138.5 L805.5 136.8 L808 135.1 L810.7 133.4 L813.5 131.8 L816.5 130.1 L819.6 128.4 L822.9 126.7 L826.3 125 L829.9 123.3 L833.6 121.6 L837.4 119.9 L841.4 118.2 L845.6 116.5 L849.9 114.8 L854.3 113.1 L858.9 111.4 L863.6 109.7 L868.5 108 L873.5 106.3 L878.6 104.6 L883.9 103 L889.4 101.3 L895 99.6 L900.7 98 L906.6 96.3 L912.6 94.6 L918.8 92.9 L925.1 91.3 L931.6 89.6 L938.2 87.9 L944.9 86.1 L951.8 84.4 L958.9 82.6 L966.1 80.9 L973.4 79 L980.9 77.2 L988.5 75.2 L996.3 73.3 L1004.2 71.3 L1012.2 69.2 L1020.5 67 L1028.8 64.7 L1037.3 62.4 L1037.5 62.6 L1037.6 80 L1038.5 83 L1039.3 86 L1040 89 L1040.7 92 L1041.5 95 L1042.3 98.1 L1043.3 101.1 L1044.3 104.1 L1045.5 107.1 L1046.9 110.1 L1048.5 113.1 L1050.3 116.1 L1052.3 119.1 L1054.5 122.1 L1057 125.1 L1059.8 128.1 L1062.8 131.1 L1066.1 134.2 L1069.7 137.2 L1073.5 140.2 L1077.5 143.2 L1081.9 146.2 L1086.4 149.2 L1091.3 152.2 L1096.3 155.2 L1101.6 158.2 L1107.1 161.2 L1112.7 164.2 L1118.6 167.2 L1124.6 170.3 L1130.7 173.3 L1137 176.3 L1143.4 179.3 L1149.9 182.3 L1156.5 185.3 L1163.1 188.3 L1169.8 191.3 L1176.5 194.3 L1183.1 197.3 L1189.7 200.3 L1196.3 203.3 L1202.9 206.4 L1209.3 209.4 L1215.6 212.4 L1221.8 215.4 L1227.8 218.4 L1233.7 221.4 L1239.4 224.4 L1244.9 227.4 L1250.2 230.4 L1255.3 233.4 L1260.1 236.4 L1264.6 239.4 L1268.9 242.5 L1272.9 245.5 L1276.6 248.5 L1280 251.5 L1283.2 254.5 L1286 257.5" fill="none" stroke="#0000ff" stroke-width="4.6" stroke-linejoin="bevel" stroke-linecap="butt"/>
<path d="M784 257 L785.1 256.6 L786.5 256 L788.2 255.4 L790.1 254.6 L792.3 253.8 L794.6 252.9 L797.2 252 L800 251 L803 250 L806.2 248.9 L809.7 247.7 L813.3 246.5 L817.2 245.2 L821.3 243.9 L825.6 242.5 L830 241 L834.7 239.4 L839.6 237.7 L844.8 235.9 L850.2 234.1 L855.6 232.2 L861.2 230.3 L866.9 228.5 L872.5 226.8 L878.1 225.1 L883.8 223.5 L889.5 221.8 L895.3 220.2 L901.2 218.6 L907.3 217.1 L913.5 215.5 L920 214 L926.9 212.5 L934.3 211 L941.9 209.4 L949.7 207.9 L957.3 206.5 L964.6 205.1 L971.4 203.8 L977.5 202.6 L982.8 201.5 L987.5 200.5 L991.8 199.6 L995.7 198.7 L999.4 197.9 L1002.9 197.1 L1006.4 196.3 L1010 195.5 L1013.7 194.7 L1017.6 193.9 L1021.4 193.1 L1025 192.3 L1028.4 191.6 L1031.5 191 L1034 190.4 L1036 190 L1287 257" fill="none" stroke="#ff0000" stroke-width="4.6" stroke-linejoin="miter" stroke-linecap="butt"/>
<path d="M784 257 L784 409 L784.1 411.1 L784.3 413.1 L784.7 415.1 L785.2 416.9 L785.8 418.7 L786.6 420.4 L787.6 422 L788.7 423.5 L789.9 424.9 L791.3 426.2 L792.8 427.5 L794.5 428.7 L796.3 429.8 L798.3 430.9 L800.4 431.8 L802.7 432.7 L805.1 433.6 L807.6 434.4 L810.3 435.1 L813.2 435.8 L816.2 436.4 L819.3 437 L822.6 437.6 L826 438.1 L829.6 438.6 L833.3 439 L837.2 439.5 L841.2 439.9 L845.4 440.3 L849.7 440.7 L854.1 441 L858.7 441.4 L863.5 441.7 L868.4 442.1 L873.4 442.5 L878.6 442.8 L883.9 443.2 L889.4 443.6 L895 444 L900.7 444.4 L906.7 444.8 L912.7 445.3 L918.9 445.7 L925.3 446.2 L931.8 446.7 L938.4 447.2 L945.2 447.7 L952.1 448.3 L959.2 448.8 L966.4 449.4 L973.8 449.9 L981.3 450.5 L989 451 L996.8 451.6 L1004.7 452.1 L1012.8 452.6 L1021.1 453 L1029.5 453.5 L1038 453.8 L1038 422 L1038.1 420.6 L1038.3 419.3 L1038.6 417.9 L1039.1 416.6 L1039.8 415.3 L1040.6 414 L1041.5 412.8 L1042.6 411.5 L1043.8 410.3 L1045.2 409 L1046.7 407.8 L1048.3 406.5 L1050.1 405.2 L1052 403.9 L1054.1 402.6 L1056.3 401.2 L1058.7 399.8 L1061.2 398.4 L1063.8 396.9 L1066.6 395.3 L1069.5 393.6 L1072.6 391.9 L1075.8 390 L1079.2 388.1 L1082.7 386 L1086.4 383.9 L1090.1 381.6 L1094.1 379.1 L1098.2 376.6 L1102.4 373.9 L1106.7 371.1 L1111.2 368.1 L1115.9 364.9 L1120.7 361.6 L1125.6 358.2 L1130.7 354.6 L1135.9 350.8 L1141.3 346.9 L1146.8 342.8 L1152.4 338.6 L1158.2 334.3 L1164.2 329.8 L1170.3 325.2 L1176.5 320.6 L1182.9 315.8 L1189.4 311 L1196 306.1 L1202.8 301.3 L1209.7 296.4 L1216.8 291.6 L1224.1 286.9 L1231.4 282.2 L1238.9 277.8 L1246.6 273.5 L1254.4 269.5 L1262.3 265.8 L1270.4 262.4 L1278.6 259.5 L1287 257" fill="none" stroke="#ff0000" stroke-width="4.6" stroke-linejoin="miter" stroke-linecap="butt"/>
<line x1="772.5" y1="57.6" x2="1292.9" y2="57.6" stroke="#000" stroke-width="3.2"/>
<line x1="772.5" y1="456.6" x2="1294.4" y2="456.6" stroke="#000" stroke-width="3.2"/>
<line x1="772.5" y1="56" x2="772.5" y2="458.2" stroke="#0000ff" stroke-width="3.2"/>
<line x1="1292.9" y1="56" x2="1292.9" y2="458.2" stroke="#ff0000" stroke-width="3.2"/>
<line x1="763.5" y1="57.6" x2="772.5" y2="57.6" stroke="#0000ff" stroke-width="2.6"/>
<line x1="1283.9" y1="57.6" x2="1292.9" y2="57.6" stroke="#ff0000" stroke-width="2.6"/>
<text transform="translate(758.8 64) scale(0.84 1)" font-family='"Liberation Sans", sans-serif' font-size="24.5" fill="#0000ff" stroke="#0000ff" stroke-width="1" text-anchor="end">4</text>
<line x1="767" y1="82.5" x2="772.5" y2="82.5" stroke="#0000ff" stroke-width="2.6"/>
<line x1="1287.4" y1="82.5" x2="1292.9" y2="82.5" stroke="#ff0000" stroke-width="2.6"/>
<line x1="763.5" y1="107.5" x2="772.5" y2="107.5" stroke="#0000ff" stroke-width="2.6"/>
<line x1="1283.9" y1="107.5" x2="1292.9" y2="107.5" stroke="#ff0000" stroke-width="2.6"/>
<text transform="translate(758.8 113.9) scale(0.84 1)" font-family='"Liberation Sans", sans-serif' font-size="24.5" fill="#0000ff" stroke="#0000ff" stroke-width="1" text-anchor="end">3</text>
<line x1="767" y1="132.4" x2="772.5" y2="132.4" stroke="#0000ff" stroke-width="2.6"/>
<line x1="1287.4" y1="132.4" x2="1292.9" y2="132.4" stroke="#ff0000" stroke-width="2.6"/>
<line x1="763.5" y1="157.3" x2="772.5" y2="157.3" stroke="#0000ff" stroke-width="2.6"/>
<line x1="1283.9" y1="157.3" x2="1292.9" y2="157.3" stroke="#ff0000" stroke-width="2.6"/>
<text transform="translate(758.8 163.8) scale(0.84 1)" font-family='"Liberation Sans", sans-serif' font-size="24.5" fill="#0000ff" stroke="#0000ff" stroke-width="1" text-anchor="end">2</text>
<line x1="767" y1="182.3" x2="772.5" y2="182.3" stroke="#0000ff" stroke-width="2.6"/>
<line x1="1287.4" y1="182.3" x2="1292.9" y2="182.3" stroke="#ff0000" stroke-width="2.6"/>
<line x1="763.5" y1="207.2" x2="772.5" y2="207.2" stroke="#0000ff" stroke-width="2.6"/>
<line x1="1283.9" y1="207.2" x2="1292.9" y2="207.2" stroke="#ff0000" stroke-width="2.6"/>
<text transform="translate(758.8 213.6) scale(0.84 1)" font-family='"Liberation Sans", sans-serif' font-size="24.5" fill="#0000ff" stroke="#0000ff" stroke-width="1" text-anchor="end">1</text>
<line x1="767" y1="232.2" x2="772.5" y2="232.2" stroke="#0000ff" stroke-width="2.6"/>
<line x1="1287.4" y1="232.2" x2="1292.9" y2="232.2" stroke="#ff0000" stroke-width="2.6"/>
<line x1="763.5" y1="257.1" x2="772.5" y2="257.1" stroke="#0000ff" stroke-width="2.6"/>
<line x1="1283.9" y1="257.1" x2="1292.9" y2="257.1" stroke="#ff0000" stroke-width="2.6"/>
<text transform="translate(758.8 263.5) scale(0.84 1)" font-family='"Liberation Sans", sans-serif' font-size="24.5" fill="#0000ff" stroke="#0000ff" stroke-width="1" text-anchor="end">0</text>
<line x1="767" y1="282" x2="772.5" y2="282" stroke="#0000ff" stroke-width="2.6"/>
<line x1="1287.4" y1="282" x2="1292.9" y2="282" stroke="#ff0000" stroke-width="2.6"/>
<line x1="763.5" y1="307" x2="772.5" y2="307" stroke="#0000ff" stroke-width="2.6"/>
<line x1="1283.9" y1="307" x2="1292.9" y2="307" stroke="#ff0000" stroke-width="2.6"/>
<text transform="translate(758.8 313.4) scale(0.84 1)" font-family='"Liberation Sans", sans-serif' font-size="24.5" fill="#0000ff" stroke="#0000ff" stroke-width="1" text-anchor="end">-1</text>
<line x1="767" y1="331.9" x2="772.5" y2="331.9" stroke="#0000ff" stroke-width="2.6"/>
<line x1="1287.4" y1="331.9" x2="1292.9" y2="331.9" stroke="#ff0000" stroke-width="2.6"/>
<line x1="763.5" y1="356.9" x2="772.5" y2="356.9" stroke="#0000ff" stroke-width="2.6"/>
<line x1="1283.9" y1="356.9" x2="1292.9" y2="356.9" stroke="#ff0000" stroke-width="2.6"/>
<text transform="translate(758.8 363.2) scale(0.84 1)" font-family='"Liberation Sans", sans-serif' font-size="24.5" fill="#0000ff" stroke="#0000ff" stroke-width="1" text-anchor="end">-2</text>
<line x1="767" y1="381.8" x2="772.5" y2="381.8" stroke="#0000ff" stroke-width="2.6"/>
<line x1="1287.4" y1="381.8" x2="1292.9" y2="381.8" stroke="#ff0000" stroke-width="2.6"/>
<line x1="763.5" y1="406.7" x2="772.5" y2="406.7" stroke="#0000ff" stroke-width="2.6"/>
<line x1="1283.9" y1="406.7" x2="1292.9" y2="406.7" stroke="#ff0000" stroke-width="2.6"/>
<text transform="translate(758.8 413.1) scale(0.84 1)" font-family='"Liberation Sans", sans-serif' font-size="24.5" fill="#0000ff" stroke="#0000ff" stroke-width="1" text-anchor="end">-3</text>
<line x1="767" y1="431.7" x2="772.5" y2="431.7" stroke="#0000ff" stroke-width="2.6"/>
<line x1="1287.4" y1="431.7" x2="1292.9" y2="431.7" stroke="#ff0000" stroke-width="2.6"/>
<line x1="763.5" y1="456.6" x2="772.5" y2="456.6" stroke="#0000ff" stroke-width="2.6"/>
<line x1="1283.9" y1="456.6" x2="1292.9" y2="456.6" stroke="#ff0000" stroke-width="2.6"/>
<text transform="translate(758.8 463) scale(0.84 1)" font-family='"Liberation Sans", sans-serif' font-size="24.5" fill="#0000ff" stroke="#0000ff" stroke-width="1" text-anchor="end">-4</text>
<line x1="784.1" y1="456.6" x2="784.1" y2="466.1" stroke="#000" stroke-width="2.8"/>
<text x="784.1" y="488.1" font-family='"Liberation Sans", sans-serif' font-size="23.3" fill="#000" text-anchor="middle" stroke="#000" stroke-width="0.8">0</text>
<line x1="826.5" y1="456.6" x2="826.5" y2="462.1" stroke="#000" stroke-width="2.8"/>
<line x1="868.8" y1="456.6" x2="868.8" y2="466.1" stroke="#000" stroke-width="2.8"/>
<text x="868.8" y="488.1" font-family='"Liberation Sans", sans-serif' font-size="23.3" fill="#000" text-anchor="middle" stroke="#000" stroke-width="0.8">150</text>
<line x1="911.2" y1="456.6" x2="911.2" y2="462.1" stroke="#000" stroke-width="2.8"/>
<line x1="953.5" y1="456.6" x2="953.5" y2="466.1" stroke="#000" stroke-width="2.8"/>
<text x="953.5" y="488.1" font-family='"Liberation Sans", sans-serif' font-size="23.3" fill="#000" text-anchor="middle" stroke="#000" stroke-width="0.8">300</text>
<line x1="995.9" y1="456.6" x2="995.9" y2="462.1" stroke="#000" stroke-width="2.8"/>
<line x1="1038.2" y1="456.6" x2="1038.2" y2="466.1" stroke="#000" stroke-width="2.8"/>
<text x="1038.2" y="488.1" font-family='"Liberation Sans", sans-serif' font-size="23.3" fill="#000" text-anchor="middle" stroke="#000" stroke-width="0.8">450</text>
<line x1="1080.6" y1="456.6" x2="1080.6" y2="462.1" stroke="#000" stroke-width="2.8"/>
<line x1="1122.9" y1="456.6" x2="1122.9" y2="466.1" stroke="#000" stroke-width="2.8"/>
<text x="1122.9" y="488.1" font-family='"Liberation Sans", sans-serif' font-size="23.3" fill="#000" text-anchor="middle" stroke="#000" stroke-width="0.8">600</text>
<line x1="1165.3" y1="456.6" x2="1165.3" y2="462.1" stroke="#000" stroke-width="2.8"/>
<line x1="1207.6" y1="456.6" x2="1207.6" y2="466.1" stroke="#000" stroke-width="2.8"/>
<text x="1207.6" y="488.1" font-family='"Liberation Sans", sans-serif' font-size="23.3" fill="#000" text-anchor="middle" stroke="#000" stroke-width="0.8">750</text>
<line x1="1250" y1="456.6" x2="1250" y2="462.1" stroke="#000" stroke-width="2.8"/>
<line x1="1292.3" y1="456.6" x2="1292.3" y2="466.1" stroke="#000" stroke-width="2.8"/>
<text x="1292.3" y="488.1" font-family='"Liberation Sans", sans-serif' font-size="23.3" fill="#000" text-anchor="middle" stroke="#000" stroke-width="0.8">900</text>
<text x="1307" y="469.8" font-family='"Liberation Sans", sans-serif' font-size="23.5" fill="#ff0000" text-anchor="middle" stroke="#ff0000" stroke-width="0.5">0</text>
<text x="1307" y="403.5" font-family='"Liberation Sans", sans-serif' font-size="23.5" fill="#ff0000" text-anchor="middle" stroke="#ff0000" stroke-width="0.5">1</text>
<text x="1307" y="337.2" font-family='"Liberation Sans", sans-serif' font-size="23.5" fill="#ff0000" text-anchor="middle" stroke="#ff0000" stroke-width="0.5">2</text>
<text x="1307" y="270.9" font-family='"Liberation Sans", sans-serif' font-size="23.5" fill="#ff0000" text-anchor="middle" stroke="#ff0000" stroke-width="0.5">3</text>
<text x="1307" y="204.6" font-family='"Liberation Sans", sans-serif' font-size="23.5" fill="#ff0000" text-anchor="middle" stroke="#ff0000" stroke-width="0.5">4</text>
<text x="1307" y="138.3" font-family='"Liberation Sans", sans-serif' font-size="23.5" fill="#ff0000" text-anchor="middle" stroke="#ff0000" stroke-width="0.5">5</text>
<text x="1307" y="72" font-family='"Liberation Sans", sans-serif' font-size="23.5" fill="#ff0000" text-anchor="middle" stroke="#ff0000" stroke-width="0.5">6</text>
<text x="1032.5" y="519.8" font-family='"Liberation Sans", sans-serif' font-size="29.5" fill="#000" font-weight="bold" text-anchor="middle">Time / s</text>
<text x="729.3" y="278.5" font-family='"Liberation Sans", sans-serif' font-size="32.5" fill="#0000ff" font-weight="bold" text-anchor="middle" transform="rotate(-90 729.3 278.5)">Voltage / V</text>
<text x="1346" y="279" font-family='"Liberation Sans", sans-serif' font-size="32.5" fill="#ff0000" font-weight="bold" text-anchor="middle" transform="rotate(-90 1346 279)">Voltage / V <tspan font-style="italic">vs.</tspan> Na<tspan font-size="29" dy="-9.5">+</tspan><tspan dy="9.5">/Na</tspan></text>
<text x="880.7" y="152" font-family='"Liberation Sans", sans-serif' font-size="23" fill="#000" textLength="168" lengthAdjust="spacingAndGlyphs" stroke="#000" stroke-width="0.6">Na ion capacitor</text>
<text x="941.6" y="256.4" font-family='"Liberation Sans", sans-serif' font-size="22.3" fill="#000" stroke="#000" stroke-width="0.7">CNTs</text>
<text x="1098" y="420" font-family='"Liberation Sans", sans-serif' font-size="23" fill="#000" stroke="#000" stroke-width="0.8">SnO<tspan font-size="12" dy="6">2</tspan><tspan dy="-6">/graphene</tspan></text>
<path d="M877 124H1056" stroke="#0000ff" stroke-width="2" stroke-dasharray="9 8" fill="none"/>
<path d="M867 124l10.5 -3.6v7.2z" fill="#0000ff" stroke="#0000ff" stroke-width="1" stroke-linejoin="round"/>
<path d="M868 231.5H1040" stroke="#ff0000" stroke-width="2" stroke-dasharray="9 8" fill="none"/>
<path d="M1051 231.5l-10.5 -3.6v7.2z" fill="#ff0000" stroke="#ff0000" stroke-width="1" stroke-linejoin="round"/>
<path d="M1081 392H1256" stroke="#ff0000" stroke-width="2" stroke-dasharray="9 8" fill="none"/>
<path d="M1267 392l-10.5 -3.6v7.2z" fill="#ff0000" stroke="#ff0000" stroke-width="1" stroke-linejoin="round"/>
</g>
<g id="panel-c">
<path d="M1470.5 294.5 L1470.6 290.9 L1470.8 287.3 L1471.2 283.6 L1471.8 279.9 L1472.5 276.2 L1473.3 272.4 L1474.4 268.7 L1475.6 264.9 L1476.9 261 L1478.4 257.2 L1480.1 253.3 L1481.9 249.4 L1483.9 245.5 L1486 241.5 L1488.3 237.6 L1490.8 233.7 L1493.4 229.7 L1496.1 225.8 L1499.1 221.8 L1502.2 217.9 L1505.4 214 L1508.8 210.1 L1512.4 206.2 L1516.1 202.3 L1520 198.5 L1524 194.6 L1528.2 190.8 L1532.5 187.1 L1537.1 183.4 L1541.7 179.7 L1546.6 176 L1551.5 172.4 L1556.7 168.8 L1562 165.3 L1567.5 161.8 L1573.1 158.3 L1578.8 154.9 L1584.8 151.5 L1590.9 148.1 L1597.1 144.8 L1603.5 141.4 L1610.1 138.1 L1616.8 134.9 L1623.7 131.6 L1630.8 128.3 L1638 124.9 L1645.3 121.6 L1652.8 118.2 L1660.5 114.8 L1668.4 111.2 L1676.4 107.6 L1684.5 103.9 L1692.8 100.1 L1701.3 96.1 L1709.9 91.9 L1718.7 87.6 L1727.6 83 L1736.7 78.1 L1746 73 L1746.3 73.5 L1746.6 90 L1746.8 96.2 L1747.1 102.3 L1747.5 108.5 L1748 114.6 L1748.7 120.8 L1749.6 126.9 L1750.6 133.1 L1751.8 139.3 L1753.1 145.4 L1754.6 151.6 L1756.4 157.7 L1758.3 163.9 L1760.4 170 L1762.7 176.2 L1765.3 182.4 L1768 188.5 L1770.9 194.7 L1774 200.8 L1777.3 207 L1780.9 213.2 L1784.6 219.3 L1788.5 225.5 L1792.5 231.6 L1796.8 237.8 L1801.2 243.9 L1805.8 250.1 L1810.5 256.3 L1815.4 262.4 L1820.4 268.6 L1825.6 274.7 L1830.8 280.9 L1836.2 287 L1841.7 293.2 L1847.2 299.4 L1852.8 305.5 L1858.4 311.7 L1864.1 317.8 L1869.7 324 L1875.4 330.1 L1881.1 336.3 L1886.7 342.5 L1892.3 348.6 L1897.8 354.8 L1903.2 360.9 L1908.5 367.1 L1913.7 373.3 L1918.7 379.4 L1923.5 385.6 L1928.2 391.7 L1932.6 397.9 L1936.8 404 L1940.8 410.2 L1944.4 416.4 L1947.7 422.5 L1950.7 428.7 L1953.4 434.8 L1955.6 441 L1957.5 447.1 L1958.9 453.3" fill="none" stroke="#ff0000" stroke-width="4.2" stroke-linejoin="bevel" stroke-linecap="butt"/>
<path d="M1470.5 285 L1470.6 281.6 L1470.7 278.3 L1471 274.9 L1471.4 271.5 L1471.9 268.1 L1472.6 264.8 L1473.3 261.4 L1474.2 258 L1475.2 254.7 L1476.3 251.3 L1477.5 247.9 L1478.8 244.5 L1480.2 241.1 L1481.8 237.8 L1483.4 234.4 L1485.2 231 L1487.1 227.6 L1489.1 224.2 L1491.3 220.8 L1493.5 217.4 L1495.9 214 L1498.3 210.5 L1500.9 207.1 L1503.6 203.7 L1506.4 200.2 L1509.4 196.8 L1512.4 193.3 L1515.6 189.8 L1518.9 186.3 L1522.3 182.8 L1525.8 179.3 L1529.4 175.8 L1533.1 172.3 L1537 168.7 L1541 165.1 L1545 161.5 L1549.2 157.9 L1553.5 154.3 L1558 150.7 L1562.5 147 L1567.2 143.3 L1572 139.6 L1576.8 135.9 L1581.8 132.2 L1587 128.4 L1592.2 124.6 L1597.5 120.8 L1603 117 L1608.6 113.1 L1614.3 109.2 L1620.1 105.3 L1626 101.4 L1632.1 97.4 L1638.2 93.4 L1644.5 89.4 L1650.9 85.3 L1657.4 81.2 L1664 77.1 L1670.7 73 L1670.9 73.5 L1671.2 90 L1671.3 96.2 L1671.5 102.3 L1671.7 108.5 L1672 114.6 L1672.4 120.8 L1672.9 126.9 L1673.5 133.1 L1674.3 139.3 L1675.1 145.4 L1676.2 151.6 L1677.3 157.7 L1678.6 163.9 L1680.1 170 L1681.7 176.2 L1683.5 182.4 L1685.5 188.5 L1687.7 194.7 L1690 200.8 L1692.4 207 L1695.1 213.2 L1697.9 219.3 L1700.8 225.5 L1704 231.6 L1707.2 237.8 L1710.6 243.9 L1714.2 250.1 L1717.9 256.3 L1721.7 262.4 L1725.6 268.6 L1729.7 274.7 L1733.8 280.9 L1738 287 L1742.3 293.2 L1746.7 299.4 L1751.1 305.5 L1755.6 311.7 L1760 317.8 L1764.5 324 L1769 330.1 L1773.5 336.3 L1778 342.5 L1782.4 348.6 L1786.7 354.8 L1791 360.9 L1795.2 367.1 L1799.2 373.3 L1803.2 379.4 L1807 385.6 L1810.6 391.7 L1814.1 397.9 L1817.3 404 L1820.4 410.2 L1823.2 416.4 L1825.8 422.5 L1828 428.7 L1830 434.8 L1831.7 441 L1833.1 447.1 L1834.1 453.3" fill="none" stroke="#808000" stroke-width="4.2" stroke-linejoin="bevel" stroke-linecap="butt"/>
<path d="M1470 275 L1470 271.6 L1470.2 268.3 L1470.3 264.9 L1470.6 261.6 L1470.9 258.3 L1471.4 255 L1471.8 251.7 L1472.4 248.4 L1473.1 245.2 L1473.8 242 L1474.6 238.7 L1475.4 235.5 L1476.4 232.3 L1477.4 229.1 L1478.5 225.9 L1479.7 222.7 L1480.9 219.6 L1482.2 216.4 L1483.6 213.2 L1485.1 210.1 L1486.6 206.9 L1488.3 203.8 L1490 200.6 L1491.7 197.4 L1493.6 194.3 L1495.5 191.1 L1497.5 187.9 L1499.6 184.7 L1501.7 181.5 L1504 178.3 L1506.3 175.1 L1508.7 171.8 L1511.1 168.6 L1513.6 165.3 L1516.2 162 L1518.9 158.7 L1521.7 155.3 L1524.5 151.9 L1527.4 148.5 L1530.4 145.1 L1533.5 141.7 L1536.6 138.2 L1539.8 134.6 L1543.1 131.1 L1546.4 127.5 L1549.9 123.9 L1553.4 120.2 L1557 116.5 L1560.6 112.7 L1564.4 108.9 L1568.2 105.1 L1572.1 101.2 L1576 97.3 L1580.1 93.4 L1584.2 89.4 L1588.4 85.4 L1592.6 81.3 L1597 77.2 L1601.4 73 L1601.4 73.5 L1601.7 90 L1601.8 96.2 L1601.9 102.3 L1602 108.5 L1602.2 114.6 L1602.4 120.8 L1602.7 126.9 L1603.1 133.1 L1603.6 139.3 L1604.1 145.4 L1604.8 151.6 L1605.5 157.7 L1606.4 163.9 L1607.4 170 L1608.5 176.2 L1609.7 182.4 L1611 188.5 L1612.4 194.7 L1614 200.8 L1615.6 207 L1617.4 213.2 L1619.3 219.3 L1621.3 225.5 L1623.4 231.6 L1625.6 237.8 L1627.9 243.9 L1630.2 250.1 L1632.7 256.3 L1635.3 262.4 L1637.9 268.6 L1640.6 274.7 L1643.3 280.9 L1646.1 287 L1649 293.2 L1651.9 299.4 L1654.8 305.5 L1657.7 311.7 L1660.7 317.8 L1663.6 324 L1666.6 330.1 L1669.5 336.3 L1672.4 342.5 L1675.3 348.6 L1678.2 354.8 L1681 360.9 L1683.7 367.1 L1686.4 373.3 L1689 379.4 L1691.5 385.6 L1693.9 391.7 L1696.2 397.9 L1698.4 404 L1700.5 410.2 L1702.5 416.4 L1704.3 422.5 L1706 428.7 L1707.6 434.8 L1709 441 L1710.2 447.1 L1711.3 453.3" fill="none" stroke="#0000ff" stroke-width="4.2" stroke-linejoin="bevel" stroke-linecap="butt"/>
<path d="M1470 265 L1470 262 L1470.1 259 L1470.2 256 L1470.3 253 L1470.5 250 L1470.7 247 L1470.9 244 L1471.2 241 L1471.5 237.9 L1471.9 234.9 L1472.3 231.8 L1472.8 228.8 L1473.2 225.7 L1473.7 222.6 L1474.3 219.6 L1474.9 216.5 L1475.5 213.4 L1476.2 210.3 L1476.9 207.2 L1477.7 204.1 L1478.4 201 L1479.3 197.9 L1480.1 194.8 L1481 191.7 L1482 188.6 L1482.9 185.5 L1483.9 182.3 L1485 179.2 L1486.1 176.1 L1487.2 172.9 L1488.4 169.8 L1489.6 166.6 L1490.8 163.4 L1492.1 160.3 L1493.4 157.1 L1494.8 153.9 L1496.2 150.7 L1497.6 147.5 L1499.1 144.2 L1500.6 141 L1502.2 137.7 L1503.7 134.4 L1505.4 131.1 L1507 127.8 L1508.7 124.5 L1510.5 121.1 L1512.3 117.7 L1514.1 114.3 L1515.9 110.8 L1517.8 107.3 L1519.8 103.7 L1521.7 100.1 L1523.7 96.4 L1525.8 92.7 L1527.9 88.9 L1530 85 L1532.2 81.1 L1534.4 77.1 L1536.6 73 L1536.6 73.5 L1536.9 95 L1536.9 101.1 L1537 107.1 L1537 113.2 L1537.1 119.3 L1537.2 125.4 L1537.3 131.4 L1537.4 137.5 L1537.6 143.6 L1537.9 149.7 L1538.2 155.7 L1538.6 161.8 L1539 167.9 L1539.4 173.9 L1540 180 L1540.6 186.1 L1541.2 192.2 L1541.9 198.2 L1542.7 204.3 L1543.6 210.4 L1544.5 216.5 L1545.5 222.5 L1546.5 228.6 L1547.6 234.7 L1548.7 240.7 L1550 246.8 L1551.2 252.9 L1552.5 259 L1553.9 265 L1555.3 271.1 L1556.8 277.2 L1558.2 283.3 L1559.8 289.3 L1561.3 295.4 L1562.9 301.5 L1564.5 307.6 L1566.1 313.6 L1567.7 319.7 L1569.4 325.8 L1571 331.8 L1572.6 337.9 L1574.3 344 L1575.9 350.1 L1577.5 356.1 L1579.1 362.2 L1580.6 368.3 L1582.1 374.4 L1583.6 380.4 L1585 386.5 L1586.4 392.6 L1587.7 398.6 L1588.9 404.7 L1590.1 410.8 L1591.2 416.9 L1592.2 422.9 L1593.2 429 L1594 435.1 L1594.8 441.2 L1595.4 447.2 L1596 453.3" fill="none" stroke="#008080" stroke-width="4.2" stroke-linejoin="bevel" stroke-linecap="butt"/>
<path d="M1469.3 453.3 L1469.3 247 L1469.3 247 L1469.3 243.8 L1469.3 240.6 L1469.4 237.4 L1469.4 234.3 L1469.5 231.2 L1469.6 228.1 L1469.7 225 L1469.8 221.9 L1469.9 218.9 L1470.1 215.9 L1470.2 212.9 L1470.4 210 L1470.6 207.1 L1470.8 204.1 L1471 201.3 L1471.2 198.4 L1471.5 195.5 L1471.8 192.7 L1472 189.9 L1472.3 187.1 L1472.6 184.3 L1473 181.5 L1473.3 178.7 L1473.7 176 L1474 173.2 L1474.4 170.5 L1474.8 167.7 L1475.2 165 L1475.7 162.3 L1476.1 159.6 L1476.6 156.8 L1477.1 154.1 L1477.6 151.4 L1478.1 148.7 L1478.6 145.9 L1479.1 143.2 L1479.7 140.5 L1480.3 137.7 L1480.8 134.9 L1481.4 132.1 L1482 129.3 L1482.7 126.5 L1483.3 123.6 L1484 120.8 L1484.7 117.9 L1485.3 114.9 L1486.1 112 L1486.8 109 L1487.5 105.9 L1488.3 102.9 L1489 99.8 L1489.8 96.6 L1490.6 93.4 L1491.4 90.1 L1492.2 86.8 L1493.1 83.5 L1493.9 80 L1494.8 76.5 L1495.7 73 L1496.2 73.5 L1496.5 100 L1496.5 106 L1496.5 112 L1496.5 118 L1496.5 124 L1496.5 129.9 L1496.5 135.9 L1496.5 141.9 L1496.5 147.9 L1496.5 153.9 L1496.6 159.9 L1496.8 165.9 L1497 171.9 L1497.2 177.8 L1497.5 183.8 L1497.8 189.8 L1498.1 195.8 L1498.5 201.8 L1498.9 207.8 L1499.3 213.8 L1499.7 219.8 L1500.1 225.8 L1500.5 231.7 L1501 237.7 L1501.5 243.7 L1502 249.7 L1502.5 255.7 L1503 261.7 L1503.5 267.7 L1504.1 273.7 L1504.6 279.6 L1505.2 285.6 L1505.7 291.6 L1506.3 297.6 L1506.9 303.6 L1507.4 309.6 L1508 315.6 L1508.6 321.6 L1509.2 327.5 L1509.8 333.5 L1510.3 339.5 L1510.9 345.5 L1511.5 351.5 L1512 357.5 L1512.6 363.5 L1513.1 369.5 L1513.7 375.5 L1514.2 381.4 L1514.7 387.4 L1515.2 393.4 L1515.7 399.4 L1516.2 405.4 L1516.6 411.4 L1517.1 417.4 L1517.5 423.4 L1517.9 429.3 L1518.3 435.3 L1518.6 441.3 L1519 447.3 L1519.3 453.3" fill="none" stroke="#ff00ff" stroke-width="4.2" stroke-linejoin="bevel" stroke-linecap="butt"/>
<rect x="1453.7" y="64.5" width="521.1" height="397.9" fill="none" stroke="#000" stroke-width="3.4"/>
<line x1="1444.7" y1="452.3" x2="1453.7" y2="452.3" stroke="#000" stroke-width="2.8"/>
<text x="1441.3" y="458.2" font-family='"Liberation Sans", sans-serif' font-size="22.6" fill="#000" text-anchor="end" stroke="#000" stroke-width="0.8">0</text>
<line x1="1448.2" y1="403.8" x2="1453.7" y2="403.8" stroke="#000" stroke-width="2.8"/>
<line x1="1444.7" y1="355.4" x2="1453.7" y2="355.4" stroke="#000" stroke-width="2.8"/>
<text x="1441.3" y="361.2" font-family='"Liberation Sans", sans-serif' font-size="22.6" fill="#000" text-anchor="end" stroke="#000" stroke-width="0.8">1</text>
<line x1="1448.2" y1="306.9" x2="1453.7" y2="306.9" stroke="#000" stroke-width="2.8"/>
<line x1="1444.7" y1="258.4" x2="1453.7" y2="258.4" stroke="#000" stroke-width="2.8"/>
<text x="1441.3" y="264.3" font-family='"Liberation Sans", sans-serif' font-size="22.6" fill="#000" text-anchor="end" stroke="#000" stroke-width="0.8">2</text>
<line x1="1448.2" y1="209.9" x2="1453.7" y2="209.9" stroke="#000" stroke-width="2.8"/>
<line x1="1444.7" y1="161.4" x2="1453.7" y2="161.4" stroke="#000" stroke-width="2.8"/>
<text x="1441.3" y="167.3" font-family='"Liberation Sans", sans-serif' font-size="22.6" fill="#000" text-anchor="end" stroke="#000" stroke-width="0.8">3</text>
<line x1="1448.2" y1="113" x2="1453.7" y2="113" stroke="#000" stroke-width="2.8"/>
<line x1="1444.7" y1="64.5" x2="1453.7" y2="64.5" stroke="#000" stroke-width="2.8"/>
<text x="1441.3" y="70.4" font-family='"Liberation Sans", sans-serif' font-size="22.6" fill="#000" text-anchor="end" stroke="#000" stroke-width="0.8">4</text>
<line x1="1468.9" y1="462.4" x2="1468.9" y2="471.9" stroke="#000" stroke-width="2.8"/>
<text x="1468.3" y="493" font-family='"Liberation Sans", sans-serif' font-size="22.6" fill="#000" text-anchor="middle" stroke="#000" stroke-width="0.8">0</text>
<line x1="1519.5" y1="462.4" x2="1519.5" y2="467.9" stroke="#000" stroke-width="2.8"/>
<line x1="1570.1" y1="462.4" x2="1570.1" y2="471.9" stroke="#000" stroke-width="2.8"/>
<text x="1569.5" y="493" font-family='"Liberation Sans", sans-serif' font-size="22.6" fill="#000" text-anchor="middle" stroke="#000" stroke-width="0.8">140</text>
<line x1="1620.7" y1="462.4" x2="1620.7" y2="467.9" stroke="#000" stroke-width="2.8"/>
<line x1="1671.3" y1="462.4" x2="1671.3" y2="471.9" stroke="#000" stroke-width="2.8"/>
<text x="1670.7" y="493" font-family='"Liberation Sans", sans-serif' font-size="22.6" fill="#000" text-anchor="middle" stroke="#000" stroke-width="0.8">280</text>
<line x1="1722" y1="462.4" x2="1722" y2="467.9" stroke="#000" stroke-width="2.8"/>
<line x1="1772.6" y1="462.4" x2="1772.6" y2="471.9" stroke="#000" stroke-width="2.8"/>
<text x="1772" y="493" font-family='"Liberation Sans", sans-serif' font-size="22.6" fill="#000" text-anchor="middle" stroke="#000" stroke-width="0.8">420</text>
<line x1="1823.2" y1="462.4" x2="1823.2" y2="467.9" stroke="#000" stroke-width="2.8"/>
<line x1="1873.8" y1="462.4" x2="1873.8" y2="471.9" stroke="#000" stroke-width="2.8"/>
<text x="1873.2" y="493" font-family='"Liberation Sans", sans-serif' font-size="22.6" fill="#000" text-anchor="middle" stroke="#000" stroke-width="0.8">560</text>
<line x1="1924.4" y1="462.4" x2="1924.4" y2="467.9" stroke="#000" stroke-width="2.8"/>
<line x1="1975" y1="462.4" x2="1975" y2="471.9" stroke="#000" stroke-width="2.8"/>
<text x="1974.4" y="493" font-family='"Liberation Sans", sans-serif' font-size="22.6" fill="#000" text-anchor="middle" stroke="#000" stroke-width="0.8">700</text>
<text x="1713.5" y="530.3" font-family='"Liberation Sans", sans-serif' font-size="28.3" fill="#000" font-weight="bold" text-anchor="middle">Time / s</text>
<text x="1410.4" y="275.5" font-family='"Liberation Sans", sans-serif' font-size="31.3" fill="#000" font-weight="bold" text-anchor="middle" transform="rotate(-90 1410.4 275.5)">Voltage / V</text>
<line x1="1823.3" y1="89" x2="1875" y2="89" stroke="#ff0000" stroke-width="5"/>
<text x="1879.3" y="96.8" font-family='"Liberation Sans", sans-serif' font-size="21.3" fill="#000" stroke="#000" stroke-width="0.6" letter-spacing="0.45">0.5 A g<tspan font-size="14" dy="-11.5">-1</tspan></text>
<line x1="1823.3" y1="124.5" x2="1875" y2="124.5" stroke="#808000" stroke-width="5"/>
<text x="1879.3" y="132.3" font-family='"Liberation Sans", sans-serif' font-size="21.3" fill="#000" stroke="#000" stroke-width="0.6" letter-spacing="0.45">0.6 A g<tspan font-size="14" dy="-11.5">-1</tspan></text>
<line x1="1823.3" y1="157.5" x2="1875" y2="157.5" stroke="#0000ff" stroke-width="5"/>
<text x="1879.3" y="165.3" font-family='"Liberation Sans", sans-serif' font-size="21.3" fill="#000" stroke="#000" stroke-width="0.6" letter-spacing="0.45">0.8 A g<tspan font-size="14" dy="-11.5">-1</tspan></text>
<line x1="1823.3" y1="192.4" x2="1875" y2="192.4" stroke="#008080" stroke-width="5"/>
<text x="1879.3" y="200.2" font-family='"Liberation Sans", sans-serif' font-size="21.3" fill="#000" stroke="#000" stroke-width="0.6" letter-spacing="0.45">1.2 A g<tspan font-size="14" dy="-11.5">-1</tspan></text>
<line x1="1823.3" y1="227.7" x2="1875" y2="227.7" stroke="#ff00ff" stroke-width="5"/>
<text x="1879.3" y="235.5" font-family='"Liberation Sans", sans-serif' font-size="21.3" fill="#000" stroke="#000" stroke-width="0.6" letter-spacing="0.45">1.8 A g<tspan font-size="14" dy="-11.5">-1</tspan></text>
</g>
<g id="panel-d">
<line x1="158.3" y1="676.2" x2="170.9" y2="685.1" stroke="#ff0000" stroke-width="4.4" stroke-linecap="round"/>
<line x1="194.2" y1="698.6" x2="239.1" y2="719.4" stroke="#ff0000" stroke-width="4.4" stroke-linecap="round"/>
<line x1="263.7" y1="730.7" x2="378" y2="782.5" stroke="#ff0000" stroke-width="4.4" stroke-linecap="round"/>
<line x1="403" y1="792.4" x2="585.8" y2="855.3" stroke="#ff0000" stroke-width="4.4" stroke-linecap="round"/>
<polygon points="147.2,656.3 149.9,664 158.1,664.2 151.6,669.1 153.9,676.9 147.2,672.2 140.5,676.9 142.9,669.1 136.4,664.2 144.5,664" fill="#ff0000"/>
<polygon points="181.9,680.8 184.6,688.5 192.8,688.6 186.3,693.6 188.6,701.4 181.9,696.7 175.2,701.4 177.6,693.6 171.1,688.6 179.3,688.5" fill="#ff0000"/>
<polygon points="251.4,713 254.1,720.7 262.2,720.9 255.7,725.8 258.1,733.6 251.4,729 244.7,733.6 247,725.8 240.5,720.9 248.7,720.7" fill="#ff0000"/>
<polygon points="390.3,775.9 392.9,783.6 401.1,783.8 394.6,788.7 397,796.6 390.3,791.9 383.6,796.6 385.9,788.7 379.4,783.8 387.6,783.6" fill="#ff0000"/>
<polygon points="598.6,847.6 601.3,855.3 609.4,855.5 602.9,860.4 605.3,868.2 598.6,863.6 591.9,868.2 594.2,860.4 587.7,855.5 595.9,855.3" fill="#ff0000"/>
<rect x="112.2" y="596.9" width="521.6" height="398.2" fill="none" stroke="#000" stroke-width="3.4"/>
<line x1="103.2" y1="995.1" x2="112.2" y2="995.1" stroke="#000" stroke-width="2.8"/>
<text x="99.5" y="1000.9" font-family='"Liberation Sans", sans-serif' font-size="22.6" fill="#000" text-anchor="end" stroke="#000" stroke-width="0.8">0</text>
<line x1="106.7" y1="945.3" x2="112.2" y2="945.3" stroke="#000" stroke-width="2.8"/>
<line x1="103.2" y1="895.5" x2="112.2" y2="895.5" stroke="#000" stroke-width="2.8"/>
<text x="99.5" y="901.3" font-family='"Liberation Sans", sans-serif' font-size="22.6" fill="#000" text-anchor="end" stroke="#000" stroke-width="0.8">50</text>
<line x1="106.7" y1="845.8" x2="112.2" y2="845.8" stroke="#000" stroke-width="2.8"/>
<line x1="103.2" y1="796" x2="112.2" y2="796" stroke="#000" stroke-width="2.8"/>
<text x="99.5" y="801.8" font-family='"Liberation Sans", sans-serif' font-size="22.6" fill="#000" text-anchor="end" stroke="#000" stroke-width="0.8">100</text>
<line x1="106.7" y1="746.2" x2="112.2" y2="746.2" stroke="#000" stroke-width="2.8"/>
<line x1="103.2" y1="696.5" x2="112.2" y2="696.5" stroke="#000" stroke-width="2.8"/>
<text x="99.5" y="702.2" font-family='"Liberation Sans", sans-serif' font-size="22.6" fill="#000" text-anchor="end" stroke="#000" stroke-width="0.8">150</text>
<line x1="106.7" y1="646.7" x2="112.2" y2="646.7" stroke="#000" stroke-width="2.8"/>
<line x1="103.2" y1="596.9" x2="112.2" y2="596.9" stroke="#000" stroke-width="2.8"/>
<text x="99.5" y="602.7" font-family='"Liberation Sans", sans-serif' font-size="22.6" fill="#000" text-anchor="end" stroke="#000" stroke-width="0.8">200</text>
<line x1="112.5" y1="995.1" x2="112.5" y2="1004.6" stroke="#000" stroke-width="2.8"/>
<text x="112.5" y="1025.6" font-family='"Liberation Sans", sans-serif' font-size="22.3" fill="#000" text-anchor="middle" stroke="#000" stroke-width="0.8">0.4</text>
<line x1="147.2" y1="995.1" x2="147.2" y2="1000.6" stroke="#000" stroke-width="2.8"/>
<line x1="181.9" y1="995.1" x2="181.9" y2="1004.6" stroke="#000" stroke-width="2.8"/>
<text x="181.9" y="1025.6" font-family='"Liberation Sans", sans-serif' font-size="22.3" fill="#000" text-anchor="middle" stroke="#000" stroke-width="0.8">0.6</text>
<line x1="216.7" y1="995.1" x2="216.7" y2="1000.6" stroke="#000" stroke-width="2.8"/>
<line x1="251.4" y1="995.1" x2="251.4" y2="1004.6" stroke="#000" stroke-width="2.8"/>
<text x="251.4" y="1025.6" font-family='"Liberation Sans", sans-serif' font-size="22.3" fill="#000" text-anchor="middle" stroke="#000" stroke-width="0.8">0.8</text>
<line x1="286.1" y1="995.1" x2="286.1" y2="1000.6" stroke="#000" stroke-width="2.8"/>
<line x1="320.8" y1="995.1" x2="320.8" y2="1004.6" stroke="#000" stroke-width="2.8"/>
<text x="320.8" y="1025.6" font-family='"Liberation Sans", sans-serif' font-size="22.3" fill="#000" text-anchor="middle" stroke="#000" stroke-width="0.8">1.0</text>
<line x1="355.5" y1="995.1" x2="355.5" y2="1000.6" stroke="#000" stroke-width="2.8"/>
<line x1="390.3" y1="995.1" x2="390.3" y2="1004.6" stroke="#000" stroke-width="2.8"/>
<text x="390.3" y="1025.6" font-family='"Liberation Sans", sans-serif' font-size="22.3" fill="#000" text-anchor="middle" stroke="#000" stroke-width="0.8">1.2</text>
<line x1="425" y1="995.1" x2="425" y2="1000.6" stroke="#000" stroke-width="2.8"/>
<line x1="459.7" y1="995.1" x2="459.7" y2="1004.6" stroke="#000" stroke-width="2.8"/>
<text x="459.7" y="1025.6" font-family='"Liberation Sans", sans-serif' font-size="22.3" fill="#000" text-anchor="middle" stroke="#000" stroke-width="0.8">1.4</text>
<line x1="494.4" y1="995.1" x2="494.4" y2="1000.6" stroke="#000" stroke-width="2.8"/>
<line x1="529.1" y1="995.1" x2="529.1" y2="1004.6" stroke="#000" stroke-width="2.8"/>
<text x="529.1" y="1025.6" font-family='"Liberation Sans", sans-serif' font-size="22.3" fill="#000" text-anchor="middle" stroke="#000" stroke-width="0.8">1.6</text>
<line x1="563.9" y1="995.1" x2="563.9" y2="1000.6" stroke="#000" stroke-width="2.8"/>
<line x1="598.6" y1="995.1" x2="598.6" y2="1004.6" stroke="#000" stroke-width="2.8"/>
<text x="598.6" y="1025.6" font-family='"Liberation Sans", sans-serif' font-size="22.3" fill="#000" text-anchor="middle" stroke="#000" stroke-width="0.8">1.8</text>
<line x1="633.3" y1="995.1" x2="633.3" y2="1000.6" stroke="#000" stroke-width="2.8"/>
<text x="224.5" y="1066.4" font-family='"Liberation Sans", sans-serif' font-size="28.3" fill="#000" font-weight="bold">Current density / A g<tspan font-size="16" dy="-14">-1</tspan></text>
<text x="45.8" y="1017" font-family='"Liberation Sans", sans-serif' font-size="31" fill="#000" font-weight="bold" transform="rotate(-90 45.8 1017)">Specific capacitance / C g<tspan font-size="17" dy="-17">-1</tspan></text>
</g>
<g id="panel-e">
<path d="M803.5 600.1V994.9M818.7 600.1V994.9M829.5 600.1V994.9M837.9 600.1V994.9M844.7 600.1V994.9M850.4 600.1V994.9M855.4 600.1V994.9M859.9 600.1V994.9M889.7 600.1V994.9M904.9 600.1V994.9M915.7 600.1V994.9M924.1 600.1V994.9M930.9 600.1V994.9M936.6 600.1V994.9M941.6 600.1V994.9M946.1 600.1V994.9M975.9 600.1V994.9M991.1 600.1V994.9M1001.9 600.1V994.9M1010.3 600.1V994.9M1017.1 600.1V994.9M1022.8 600.1V994.9M1027.8 600.1V994.9M1032.3 600.1V994.9M1062.1 600.1V994.9M1077.3 600.1V994.9M1088.1 600.1V994.9M1096.5 600.1V994.9M1103.3 600.1V994.9M1109 600.1V994.9M1114 600.1V994.9M1118.5 600.1V994.9M1148.3 600.1V994.9M1163.5 600.1V994.9M1174.3 600.1V994.9M1182.7 600.1V994.9M1189.5 600.1V994.9M1195.2 600.1V994.9M1200.2 600.1V994.9M1204.7 600.1V994.9M1234.5 600.1V994.9M1249.7 600.1V994.9M1260.5 600.1V994.9M1268.9 600.1V994.9M1275.7 600.1V994.9M1281.4 600.1V994.9M1286.4 600.1V994.9M1290.9 600.1V994.9" stroke="#b8b8b8" stroke-width="1.2" fill="none" stroke-dasharray="1.4 1.1 1.4 1.1 1.4 1.1 1.4 16.4" stroke-dashoffset="4.3"/>
<path d="M779.8 976.9H1295.2M779.8 965.2H1295.2M779.8 957H1295.2M779.8 950.5H1295.2M779.8 945.3H1295.2M779.8 940.8H1295.2M779.8 937H1295.2M779.8 933.6H1295.2M779.8 910.6H1295.2M779.8 898.9H1295.2M779.8 890.6H1295.2M779.8 884.2H1295.2M779.8 878.9H1295.2M779.8 874.5H1295.2M779.8 870.6H1295.2M779.8 867.2H1295.2M779.8 844.2H1295.2M779.8 832.5H1295.2M779.8 824.3H1295.2M779.8 817.8H1295.2M779.8 812.6H1295.2M779.8 808.1H1295.2M779.8 804.3H1295.2M779.8 800.9H1295.2M779.8 777.9H1295.2M779.8 766.2H1295.2M779.8 757.9H1295.2M779.8 751.5H1295.2M779.8 746.2H1295.2M779.8 741.8H1295.2M779.8 737.9H1295.2M779.8 734.5H1295.2M779.8 711.5H1295.2M779.8 699.8H1295.2M779.8 691.6H1295.2M779.8 685.1H1295.2M779.8 679.9H1295.2M779.8 675.4H1295.2M779.8 671.6H1295.2M779.8 668.2H1295.2M779.8 645.2H1295.2M779.8 633.5H1295.2M779.8 625.2H1295.2M779.8 618.8H1295.2M779.8 613.5H1295.2M779.8 609.1H1295.2M779.8 605.2H1295.2M779.8 601.8H1295.2" stroke="#b8b8b8" stroke-width="1.2" fill="none" stroke-dasharray="1.4 1.1 1.4 1.1 1.4 1.1 1.4 1.1 1.4 1.1 1.4 1.1 1.4 1.1 1.4 1.1 1.4 1.1 1.4 44.5" stroke-dashoffset="5.9"/>
<path d="M1034 735.9 L1040.1 737.1 L1051.5 739.4 L1065.9 745.2 L1079.5 763.9 L1088.8 812.5" fill="none" stroke="#000" stroke-width="2.1" stroke-linejoin="round" stroke-linecap="butt"/>
<circle cx="1034" cy="735.9" r="9.2" fill="#000"/>
<circle cx="1040.1" cy="737.1" r="9.2" fill="#000"/>
<circle cx="1051.5" cy="739.4" r="9.2" fill="#000"/>
<circle cx="1065.9" cy="745.2" r="9.2" fill="#000"/>
<circle cx="1079.5" cy="763.9" r="9.2" fill="#000"/>
<circle cx="1088.8" cy="812.5" r="9.2" fill="#000"/>
<line x1="777.6" y1="731.5" x2="950" y2="598.8" stroke="#7d00ff" stroke-width="2.8"/>
<line x1="777.6" y1="864.2" x2="1122.4" y2="598.8" stroke="#7d00ff" stroke-width="2.8"/>
<line x1="777.6" y1="996.9" x2="1294.8" y2="598.8" stroke="#7d00ff" stroke-width="2.8"/>
<line x1="950" y1="996.9" x2="1294.8" y2="731.5" stroke="#7d00ff" stroke-width="2.8"/>
<line x1="1122.4" y1="996.9" x2="1294.8" y2="864.2" stroke="#7d00ff" stroke-width="2.8"/>
<rect x="777.8" y="598.1" width="519.4" height="398.8" fill="none" stroke="#000" stroke-width="2.7"/>
<path d="M777.6 996.9v9.5M777.6 598.1v8.5M803.5 996.9v5.5M803.5 598.1v4.8M818.7 996.9v5.5M818.7 598.1v4.8M829.5 996.9v5.5M829.5 598.1v4.8M837.9 996.9v5.5M837.9 598.1v4.8M844.7 996.9v5.5M844.7 598.1v4.8M850.4 996.9v5.5M850.4 598.1v4.8M855.4 996.9v5.5M855.4 598.1v4.8M859.9 996.9v5.5M859.9 598.1v4.8M863.8 996.9v9.5M863.8 598.1v8.5M889.7 996.9v5.5M889.7 598.1v4.8M904.9 996.9v5.5M904.9 598.1v4.8M915.7 996.9v5.5M915.7 598.1v4.8M924.1 996.9v5.5M924.1 598.1v4.8M930.9 996.9v5.5M930.9 598.1v4.8M936.6 996.9v5.5M936.6 598.1v4.8M941.6 996.9v5.5M941.6 598.1v4.8M946.1 996.9v5.5M946.1 598.1v4.8M950 996.9v9.5M950 598.1v8.5M975.9 996.9v5.5M975.9 598.1v4.8M991.1 996.9v5.5M991.1 598.1v4.8M1001.9 996.9v5.5M1001.9 598.1v4.8M1010.3 996.9v5.5M1010.3 598.1v4.8M1017.1 996.9v5.5M1017.1 598.1v4.8M1022.8 996.9v5.5M1022.8 598.1v4.8M1027.8 996.9v5.5M1027.8 598.1v4.8M1032.3 996.9v5.5M1032.3 598.1v4.8M1036.2 996.9v9.5M1036.2 598.1v8.5M1062.1 996.9v5.5M1062.1 598.1v4.8M1077.3 996.9v5.5M1077.3 598.1v4.8M1088.1 996.9v5.5M1088.1 598.1v4.8M1096.5 996.9v5.5M1096.5 598.1v4.8M1103.3 996.9v5.5M1103.3 598.1v4.8M1109 996.9v5.5M1109 598.1v4.8M1114 996.9v5.5M1114 598.1v4.8M1118.5 996.9v5.5M1118.5 598.1v4.8M1122.4 996.9v9.5M1122.4 598.1v8.5M1148.3 996.9v5.5M1148.3 598.1v4.8M1163.5 996.9v5.5M1163.5 598.1v4.8M1174.3 996.9v5.5M1174.3 598.1v4.8M1182.7 996.9v5.5M1182.7 598.1v4.8M1189.5 996.9v5.5M1189.5 598.1v4.8M1195.2 996.9v5.5M1195.2 598.1v4.8M1200.2 996.9v5.5M1200.2 598.1v4.8M1204.7 996.9v5.5M1204.7 598.1v4.8M1208.6 996.9v9.5M1208.6 598.1v8.5M1234.5 996.9v5.5M1234.5 598.1v4.8M1249.7 996.9v5.5M1249.7 598.1v4.8M1260.5 996.9v5.5M1260.5 598.1v4.8M1268.9 996.9v5.5M1268.9 598.1v4.8M1275.7 996.9v5.5M1275.7 598.1v4.8M1281.4 996.9v5.5M1281.4 598.1v4.8M1286.4 996.9v5.5M1286.4 598.1v4.8M1290.9 996.9v5.5M1290.9 598.1v4.8M1294.8 996.9v9.5M1294.8 598.1v8.5M777.8 996.9h-7.5M1297.2 996.9h-7.5M777.8 976.9h-3.8M1297.2 976.9h-3.8M777.8 965.2h-3.8M1297.2 965.2h-3.8M777.8 957h-3.8M1297.2 957h-3.8M777.8 950.5h-3.8M1297.2 950.5h-3.8M777.8 945.3h-3.8M1297.2 945.3h-3.8M777.8 940.8h-3.8M1297.2 940.8h-3.8M777.8 937h-3.8M1297.2 937h-3.8M777.8 933.6h-3.8M1297.2 933.6h-3.8M777.8 930.5h-7.5M1297.2 930.5h-7.5M777.8 910.6h-3.8M1297.2 910.6h-3.8M777.8 898.9h-3.8M1297.2 898.9h-3.8M777.8 890.6h-3.8M1297.2 890.6h-3.8M777.8 884.2h-3.8M1297.2 884.2h-3.8M777.8 878.9h-3.8M1297.2 878.9h-3.8M777.8 874.5h-3.8M1297.2 874.5h-3.8M777.8 870.6h-3.8M1297.2 870.6h-3.8M777.8 867.2h-3.8M1297.2 867.2h-3.8M777.8 864.2h-7.5M1297.2 864.2h-7.5M777.8 844.2h-3.8M1297.2 844.2h-3.8M777.8 832.5h-3.8M1297.2 832.5h-3.8M777.8 824.3h-3.8M1297.2 824.3h-3.8M777.8 817.8h-3.8M1297.2 817.8h-3.8M777.8 812.6h-3.8M1297.2 812.6h-3.8M777.8 808.1h-3.8M1297.2 808.1h-3.8M777.8 804.3h-3.8M1297.2 804.3h-3.8M777.8 800.9h-3.8M1297.2 800.9h-3.8M777.8 797.9h-7.5M1297.2 797.9h-7.5M777.8 777.9h-3.8M1297.2 777.9h-3.8M777.8 766.2h-3.8M1297.2 766.2h-3.8M777.8 757.9h-3.8M1297.2 757.9h-3.8M777.8 751.5h-3.8M1297.2 751.5h-3.8M777.8 746.2h-3.8M1297.2 746.2h-3.8M777.8 741.8h-3.8M1297.2 741.8h-3.8M777.8 737.9h-3.8M1297.2 737.9h-3.8M777.8 734.5h-3.8M1297.2 734.5h-3.8M777.8 731.5h-7.5M1297.2 731.5h-7.5M777.8 711.5h-3.8M1297.2 711.5h-3.8M777.8 699.8h-3.8M1297.2 699.8h-3.8M777.8 691.6h-3.8M1297.2 691.6h-3.8M777.8 685.1h-3.8M1297.2 685.1h-3.8M777.8 679.9h-3.8M1297.2 679.9h-3.8M777.8 675.4h-3.8M1297.2 675.4h-3.8M777.8 671.6h-3.8M1297.2 671.6h-3.8M777.8 668.2h-3.8M1297.2 668.2h-3.8M777.8 665.1h-7.5M1297.2 665.1h-7.5M777.8 645.2h-3.8M1297.2 645.2h-3.8M777.8 633.5h-3.8M1297.2 633.5h-3.8M777.8 625.2h-3.8M1297.2 625.2h-3.8M777.8 618.8h-3.8M1297.2 618.8h-3.8M777.8 613.5h-3.8M1297.2 613.5h-3.8M777.8 609.1h-3.8M1297.2 609.1h-3.8M777.8 605.2h-3.8M1297.2 605.2h-3.8M777.8 601.8h-3.8M1297.2 601.8h-3.8M777.8 598.8h-7.5M1297.2 598.8h-7.5" stroke="#000" stroke-width="2" fill="none"/>
<path d="M950 996.9v-8M1122.4 996.9v-8M1295 732.5v-9h0M1288.2 731h8M1295 865.2v-9h0M1288.2 863.7h8" stroke="#000" stroke-width="1.2" fill="none"/>
<text x="761.8" y="1032.8" font-family='"Liberation Sans", sans-serif' font-size="22.3" fill="#000" stroke="#000" stroke-width="0.8">10<tspan font-size="13.5" dy="-12.8">0</tspan></text>
<text x="848" y="1032.8" font-family='"Liberation Sans", sans-serif' font-size="22.3" fill="#000" stroke="#000" stroke-width="0.8">10<tspan font-size="13.5" dy="-12.8">1</tspan></text>
<text x="934.2" y="1032.8" font-family='"Liberation Sans", sans-serif' font-size="22.3" fill="#000" stroke="#000" stroke-width="0.8">10<tspan font-size="13.5" dy="-12.8">2</tspan></text>
<text x="1020.4" y="1032.8" font-family='"Liberation Sans", sans-serif' font-size="22.3" fill="#000" stroke="#000" stroke-width="0.8">10<tspan font-size="13.5" dy="-12.8">3</tspan></text>
<text x="1106.6" y="1032.8" font-family='"Liberation Sans", sans-serif' font-size="22.3" fill="#000" stroke="#000" stroke-width="0.8">10<tspan font-size="13.5" dy="-12.8">4</tspan></text>
<text x="1192.8" y="1032.8" font-family='"Liberation Sans", sans-serif' font-size="22.3" fill="#000" stroke="#000" stroke-width="0.8">10<tspan font-size="13.5" dy="-12.8">5</tspan></text>
<text x="1279" y="1032.8" font-family='"Liberation Sans", sans-serif' font-size="22.3" fill="#000" stroke="#000" stroke-width="0.8">10<tspan font-size="13.5" dy="-12.8">6</tspan></text>
<text x="727.7" y="1006.5" font-family='"Liberation Sans", sans-serif' font-size="22.3" fill="#000" stroke="#000" stroke-width="0.8">10<tspan font-size="13.5" dy="-12.8">-2</tspan></text>
<text x="727.7" y="940" font-family='"Liberation Sans", sans-serif' font-size="22.3" fill="#000" stroke="#000" stroke-width="0.8">10<tspan font-size="13.5" dy="-12.8">-1</tspan></text>
<text x="732.2" y="873.5" font-family='"Liberation Sans", sans-serif' font-size="22.3" fill="#000" stroke="#000" stroke-width="0.8">10<tspan font-size="13.5" dy="-12.8">0</tspan></text>
<text x="732.2" y="806.9" font-family='"Liberation Sans", sans-serif' font-size="22.3" fill="#000" stroke="#000" stroke-width="0.8">10<tspan font-size="13.5" dy="-12.8">1</tspan></text>
<text x="732.2" y="740.4" font-family='"Liberation Sans", sans-serif' font-size="22.3" fill="#000" stroke="#000" stroke-width="0.8">10<tspan font-size="13.5" dy="-12.8">2</tspan></text>
<text x="732.2" y="673.9" font-family='"Liberation Sans", sans-serif' font-size="22.3" fill="#000" stroke="#000" stroke-width="0.8">10<tspan font-size="13.5" dy="-12.8">3</tspan></text>
<text x="732.2" y="607.4" font-family='"Liberation Sans", sans-serif' font-size="22.3" fill="#000" stroke="#000" stroke-width="0.8">10<tspan font-size="13.5" dy="-12.8">4</tspan></text>
<text x="878.3" y="1062.5" font-family='"Liberation Sans", sans-serif' font-size="28.5" fill="#000" font-weight="bold">Powder density / W kg<tspan font-size="16" dy="-14">-1</tspan></text>
<text x="722.5" y="996.4" font-family='"Liberation Sans", sans-serif' font-size="32" fill="#000" font-weight="bold" transform="rotate(-90 722.5 996.4)">Energy density / Wh kg<tspan font-size="17" dy="-15">-1</tspan></text>
<text x="860.8" y="617" font-family='"Liberation Sans", sans-serif' font-size="22.6" fill="#ff0000" textLength="48" lengthAdjust="spacingAndGlyphs" stroke="#ff0000" stroke-width="1">100h</text>
<text x="1049.9" y="622.6" font-family='"Liberation Sans", sans-serif' font-size="22.6" fill="#ff0000" textLength="24" lengthAdjust="spacingAndGlyphs" stroke="#ff0000" stroke-width="1">1h</text>
<text x="1185.9" y="619.7" font-family='"Liberation Sans", sans-serif' font-size="22.6" fill="#ff0000" textLength="68.7" lengthAdjust="spacingAndGlyphs" stroke="#ff0000" stroke-width="1">36 sec</text>
<text x="1202.1" y="719.4" font-family='"Liberation Sans", sans-serif' font-size="22.6" fill="#ff0000" textLength="88.4" lengthAdjust="spacingAndGlyphs" stroke="#ff0000" stroke-width="1">0.36 sec</text>
<text x="1196.8" y="854" font-family='"Liberation Sans", sans-serif' font-size="22.6" fill="#ff0000" textLength="92.7" lengthAdjust="spacingAndGlyphs" stroke="#ff0000" stroke-width="1">3.6 msec</text>
</g>
<g id="panel-f">
<clipPath id="cf"><rect x="1458.5" y="599.3" width="520.1" height="399.5"/></clipPath>
<g clip-path="url(#cf)" fill="#5aa85a" fill-opacity="0.2" stroke="#048204" stroke-width="1.9"><circle cx="1460.1" cy="726.8" r="4.2"/><circle cx="1460.7" cy="725.4" r="4.2"/><circle cx="1461.2" cy="729.3" r="4.2"/><circle cx="1461.8" cy="724.7" r="4.2"/><circle cx="1462.4" cy="728.3" r="4.2"/><circle cx="1463" cy="726.9" r="4.2"/><circle cx="1463.5" cy="724.4" r="4.2"/><circle cx="1464.1" cy="727.9" r="4.2"/><circle cx="1464.7" cy="724.1" r="4.2"/><circle cx="1465.3" cy="727.2" r="4.2"/><circle cx="1465.8" cy="724.3" r="4.2"/><circle cx="1466.4" cy="724.4" r="4.2"/><circle cx="1467" cy="726.9" r="4.2"/><circle cx="1467.6" cy="730.1" r="4.2"/><circle cx="1468.1" cy="724.6" r="4.2"/><circle cx="1468.7" cy="725.4" r="4.2"/><circle cx="1469.3" cy="728.8" r="4.2"/><circle cx="1469.9" cy="731.5" r="4.2"/><circle cx="1470.4" cy="729" r="4.2"/><circle cx="1471" cy="727.9" r="4.2"/><circle cx="1471.6" cy="732.7" r="4.2"/><circle cx="1472.2" cy="725.7" r="4.2"/><circle cx="1472.8" cy="732.3" r="4.2"/><circle cx="1473.3" cy="727.9" r="4.2"/><circle cx="1473.9" cy="726.9" r="4.2"/><circle cx="1474.5" cy="727" r="4.2"/><circle cx="1475.1" cy="729.2" r="4.2"/><circle cx="1475.6" cy="734.1" r="4.2"/><circle cx="1476.2" cy="730.3" r="4.2"/><circle cx="1476.8" cy="734.8" r="4.2"/><circle cx="1477.4" cy="736.6" r="4.2"/><circle cx="1477.9" cy="736" r="4.2"/><circle cx="1478.5" cy="738.7" r="4.2"/><circle cx="1479.1" cy="736.3" r="4.2"/><circle cx="1479.7" cy="737.5" r="4.2"/><circle cx="1480.2" cy="739.7" r="4.2"/><circle cx="1480.8" cy="744.3" r="4.2"/><circle cx="1481.4" cy="742.8" r="4.2"/><circle cx="1482" cy="742.1" r="4.2"/><circle cx="1482.5" cy="744.3" r="4.2"/><circle cx="1483.1" cy="743.5" r="4.2"/><circle cx="1483.7" cy="742.7" r="4.2"/><circle cx="1484.3" cy="746.9" r="4.2"/><circle cx="1484.9" cy="746.7" r="4.2"/><circle cx="1485.4" cy="743.6" r="4.2"/><circle cx="1486" cy="746.7" r="4.2"/><circle cx="1486.6" cy="746.8" r="4.2"/><circle cx="1487.2" cy="750" r="4.2"/><circle cx="1487.7" cy="749.2" r="4.2"/><circle cx="1488.3" cy="746" r="4.2"/><circle cx="1488.9" cy="751.5" r="4.2"/><circle cx="1489.5" cy="744.8" r="4.2"/><circle cx="1490" cy="747.1" r="4.2"/><circle cx="1490.6" cy="749.8" r="4.2"/><circle cx="1491.2" cy="745" r="4.2"/><circle cx="1491.8" cy="747.6" r="4.2"/><circle cx="1492.3" cy="744" r="4.2"/><circle cx="1492.9" cy="748.9" r="4.2"/><circle cx="1493.5" cy="749.6" r="4.2"/><circle cx="1494.1" cy="748" r="4.2"/><circle cx="1494.6" cy="750.3" r="4.2"/><circle cx="1495.2" cy="745.9" r="4.2"/><circle cx="1495.8" cy="748.8" r="4.2"/><circle cx="1496.4" cy="747.9" r="4.2"/><circle cx="1497" cy="747.8" r="4.2"/><circle cx="1497.5" cy="746.8" r="4.2"/><circle cx="1498.1" cy="749.8" r="4.2"/><circle cx="1498.7" cy="750.6" r="4.2"/><circle cx="1499.3" cy="746.8" r="4.2"/><circle cx="1499.8" cy="748" r="4.2"/><circle cx="1500.4" cy="742.8" r="4.2"/><circle cx="1501" cy="747.2" r="4.2"/><circle cx="1501.6" cy="746.1" r="4.2"/><circle cx="1502.1" cy="748" r="4.2"/><circle cx="1502.7" cy="745.9" r="4.2"/><circle cx="1503.3" cy="741" r="4.2"/><circle cx="1503.9" cy="741.1" r="4.2"/><circle cx="1504.4" cy="742.7" r="4.2"/><circle cx="1505" cy="737.3" r="4.2"/><circle cx="1505.6" cy="740.5" r="4.2"/><circle cx="1506.2" cy="738.3" r="4.2"/><circle cx="1506.8" cy="738.2" r="4.2"/><circle cx="1507.3" cy="738.4" r="4.2"/><circle cx="1507.9" cy="744.7" r="4.2"/><circle cx="1508.5" cy="740.5" r="4.2"/><circle cx="1509.1" cy="742.3" r="4.2"/><circle cx="1509.6" cy="744.2" r="4.2"/><circle cx="1510.2" cy="748.6" r="4.2"/><circle cx="1510.8" cy="742.9" r="4.2"/><circle cx="1511.4" cy="746" r="4.2"/><circle cx="1511.9" cy="746.7" r="4.2"/><circle cx="1512.5" cy="749" r="4.2"/><circle cx="1513.1" cy="748.1" r="4.2"/><circle cx="1513.7" cy="748" r="4.2"/><circle cx="1514.2" cy="742.9" r="4.2"/><circle cx="1514.8" cy="743.4" r="4.2"/><circle cx="1515.4" cy="742.5" r="4.2"/><circle cx="1516" cy="746.2" r="4.2"/><circle cx="1516.5" cy="746.5" r="4.2"/><circle cx="1517.1" cy="740.2" r="4.2"/><circle cx="1517.7" cy="740.6" r="4.2"/><circle cx="1518.3" cy="741.4" r="4.2"/><circle cx="1518.9" cy="741.9" r="4.2"/><circle cx="1519.4" cy="744.5" r="4.2"/><circle cx="1520" cy="746.1" r="4.2"/><circle cx="1520.6" cy="744.3" r="4.2"/><circle cx="1521.2" cy="743.1" r="4.2"/><circle cx="1521.7" cy="747" r="4.2"/><circle cx="1522.3" cy="747.3" r="4.2"/><circle cx="1522.9" cy="749.3" r="4.2"/><circle cx="1523.5" cy="752.6" r="4.2"/><circle cx="1524" cy="750.7" r="4.2"/><circle cx="1524.6" cy="749.2" r="4.2"/><circle cx="1525.2" cy="749.5" r="4.2"/><circle cx="1525.8" cy="749.4" r="4.2"/><circle cx="1526.3" cy="743.9" r="4.2"/><circle cx="1526.9" cy="749.7" r="4.2"/><circle cx="1527.5" cy="748" r="4.2"/><circle cx="1528.1" cy="748.1" r="4.2"/><circle cx="1528.6" cy="747" r="4.2"/><circle cx="1529.2" cy="743.5" r="4.2"/><circle cx="1529.8" cy="743.5" r="4.2"/><circle cx="1530.4" cy="741.5" r="4.2"/><circle cx="1531" cy="746.1" r="4.2"/><circle cx="1531.5" cy="742.2" r="4.2"/><circle cx="1532.1" cy="743" r="4.2"/><circle cx="1532.7" cy="744.8" r="4.2"/><circle cx="1533.3" cy="745.2" r="4.2"/><circle cx="1533.8" cy="747.2" r="4.2"/><circle cx="1534.4" cy="745.4" r="4.2"/><circle cx="1535" cy="745.3" r="4.2"/><circle cx="1535.6" cy="746.5" r="4.2"/><circle cx="1536.1" cy="745.9" r="4.2"/><circle cx="1536.7" cy="747.7" r="4.2"/><circle cx="1537.3" cy="744.7" r="4.2"/><circle cx="1537.9" cy="751" r="4.2"/><circle cx="1538.4" cy="748.5" r="4.2"/><circle cx="1539" cy="744.3" r="4.2"/><circle cx="1539.6" cy="744.6" r="4.2"/><circle cx="1540.2" cy="744.9" r="4.2"/><circle cx="1540.7" cy="744.6" r="4.2"/><circle cx="1541.3" cy="742.2" r="4.2"/><circle cx="1541.9" cy="747.5" r="4.2"/><circle cx="1542.5" cy="748.4" r="4.2"/><circle cx="1543.1" cy="744.1" r="4.2"/><circle cx="1543.6" cy="744.2" r="4.2"/><circle cx="1544.2" cy="741" r="4.2"/><circle cx="1544.8" cy="741.1" r="4.2"/><circle cx="1545.4" cy="742.8" r="4.2"/><circle cx="1545.9" cy="742.1" r="4.2"/><circle cx="1546.5" cy="746.3" r="4.2"/><circle cx="1547.1" cy="740.8" r="4.2"/><circle cx="1547.7" cy="739.5" r="4.2"/><circle cx="1548.2" cy="746.5" r="4.2"/><circle cx="1548.8" cy="743" r="4.2"/><circle cx="1549.4" cy="739.8" r="4.2"/><circle cx="1550" cy="742.6" r="4.2"/><circle cx="1550.5" cy="738.4" r="4.2"/><circle cx="1551.1" cy="742.1" r="4.2"/><circle cx="1551.7" cy="745.5" r="4.2"/><circle cx="1552.3" cy="744.4" r="4.2"/><circle cx="1552.8" cy="743.1" r="4.2"/><circle cx="1553.4" cy="739.6" r="4.2"/><circle cx="1554" cy="740.6" r="4.2"/><circle cx="1554.6" cy="739.4" r="4.2"/><circle cx="1555.2" cy="744.6" r="4.2"/><circle cx="1555.7" cy="743.3" r="4.2"/><circle cx="1556.3" cy="745.9" r="4.2"/><circle cx="1556.9" cy="743" r="4.2"/><circle cx="1557.5" cy="742.8" r="4.2"/><circle cx="1558" cy="747.8" r="4.2"/><circle cx="1558.6" cy="749.4" r="4.2"/><circle cx="1559.2" cy="748.4" r="4.2"/><circle cx="1559.8" cy="747.8" r="4.2"/><circle cx="1560.3" cy="747.5" r="4.2"/><circle cx="1560.9" cy="746.2" r="4.2"/><circle cx="1561.5" cy="741.5" r="4.2"/><circle cx="1562.1" cy="743" r="4.2"/><circle cx="1562.6" cy="741" r="4.2"/><circle cx="1563.2" cy="737.9" r="4.2"/><circle cx="1563.8" cy="737.4" r="4.2"/><circle cx="1564.4" cy="739.1" r="4.2"/><circle cx="1564.9" cy="739" r="4.2"/><circle cx="1565.5" cy="742.6" r="4.2"/><circle cx="1566.1" cy="745.1" r="4.2"/><circle cx="1566.7" cy="741.7" r="4.2"/><circle cx="1567.3" cy="746.2" r="4.2"/><circle cx="1567.8" cy="747.4" r="4.2"/><circle cx="1568.4" cy="747.9" r="4.2"/><circle cx="1569" cy="744.1" r="4.2"/><circle cx="1569.6" cy="743.6" r="4.2"/><circle cx="1570.1" cy="744.3" r="4.2"/><circle cx="1570.7" cy="744.5" r="4.2"/><circle cx="1571.3" cy="744.8" r="4.2"/><circle cx="1571.9" cy="748" r="4.2"/><circle cx="1572.4" cy="749.7" r="4.2"/><circle cx="1573" cy="748.3" r="4.2"/><circle cx="1573.6" cy="744.4" r="4.2"/><circle cx="1574.2" cy="744.5" r="4.2"/><circle cx="1574.7" cy="744.5" r="4.2"/><circle cx="1575.3" cy="737.9" r="4.2"/><circle cx="1575.9" cy="741.6" r="4.2"/><circle cx="1576.5" cy="743.3" r="4.2"/><circle cx="1577" cy="742.3" r="4.2"/><circle cx="1577.6" cy="742.2" r="4.2"/><circle cx="1578.2" cy="740.2" r="4.2"/><circle cx="1578.8" cy="738.1" r="4.2"/><circle cx="1579.4" cy="743.1" r="4.2"/><circle cx="1579.9" cy="739.8" r="4.2"/><circle cx="1580.5" cy="743.8" r="4.2"/><circle cx="1581.1" cy="745.5" r="4.2"/><circle cx="1581.7" cy="741.3" r="4.2"/><circle cx="1582.2" cy="741.7" r="4.2"/><circle cx="1582.8" cy="746.3" r="4.2"/><circle cx="1583.4" cy="744.9" r="4.2"/><circle cx="1584" cy="740.9" r="4.2"/><circle cx="1584.5" cy="740.8" r="4.2"/><circle cx="1585.1" cy="741.2" r="4.2"/><circle cx="1585.7" cy="747.3" r="4.2"/><circle cx="1586.3" cy="746.6" r="4.2"/><circle cx="1586.8" cy="741.5" r="4.2"/><circle cx="1587.4" cy="746.9" r="4.2"/><circle cx="1588" cy="748.1" r="4.2"/><circle cx="1588.6" cy="745.6" r="4.2"/><circle cx="1589.2" cy="743.3" r="4.2"/><circle cx="1589.7" cy="744.9" r="4.2"/><circle cx="1590.3" cy="741.7" r="4.2"/><circle cx="1590.9" cy="740.9" r="4.2"/><circle cx="1591.5" cy="748.5" r="4.2"/><circle cx="1592" cy="746.1" r="4.2"/><circle cx="1592.6" cy="745.2" r="4.2"/><circle cx="1593.2" cy="748.5" r="4.2"/><circle cx="1593.8" cy="744.8" r="4.2"/><circle cx="1594.3" cy="748.3" r="4.2"/><circle cx="1594.9" cy="748.1" r="4.2"/><circle cx="1595.5" cy="743.4" r="4.2"/><circle cx="1596.1" cy="743.9" r="4.2"/><circle cx="1596.6" cy="744.3" r="4.2"/><circle cx="1597.2" cy="744" r="4.2"/><circle cx="1597.8" cy="746.8" r="4.2"/><circle cx="1598.4" cy="744.3" r="4.2"/><circle cx="1598.9" cy="745.6" r="4.2"/><circle cx="1599.5" cy="743.5" r="4.2"/><circle cx="1600.1" cy="749.6" r="4.2"/><circle cx="1600.7" cy="745.3" r="4.2"/><circle cx="1601.3" cy="746.1" r="4.2"/><circle cx="1601.8" cy="747.1" r="4.2"/><circle cx="1602.4" cy="749.8" r="4.2"/><circle cx="1603" cy="746.2" r="4.2"/><circle cx="1603.6" cy="750.3" r="4.2"/><circle cx="1604.1" cy="747.3" r="4.2"/><circle cx="1604.7" cy="747.9" r="4.2"/><circle cx="1605.3" cy="748.2" r="4.2"/><circle cx="1605.9" cy="744.6" r="4.2"/><circle cx="1606.4" cy="748.3" r="4.2"/><circle cx="1607" cy="746.6" r="4.2"/><circle cx="1607.6" cy="745.6" r="4.2"/><circle cx="1608.2" cy="752.2" r="4.2"/><circle cx="1608.7" cy="747.6" r="4.2"/><circle cx="1609.3" cy="750.3" r="4.2"/><circle cx="1609.9" cy="752.5" r="4.2"/><circle cx="1610.5" cy="751.4" r="4.2"/><circle cx="1611" cy="749.8" r="4.2"/><circle cx="1611.6" cy="751.4" r="4.2"/><circle cx="1612.2" cy="751.7" r="4.2"/><circle cx="1612.8" cy="753.5" r="4.2"/><circle cx="1613.4" cy="748.2" r="4.2"/><circle cx="1613.9" cy="751.7" r="4.2"/><circle cx="1614.5" cy="749.3" r="4.2"/><circle cx="1615.1" cy="749.5" r="4.2"/><circle cx="1615.7" cy="753.3" r="4.2"/><circle cx="1616.2" cy="751.2" r="4.2"/><circle cx="1616.8" cy="751.6" r="4.2"/><circle cx="1617.4" cy="753.1" r="4.2"/><circle cx="1618" cy="754.2" r="4.2"/><circle cx="1618.5" cy="750.5" r="4.2"/><circle cx="1619.1" cy="751.8" r="4.2"/><circle cx="1619.7" cy="750.9" r="4.2"/><circle cx="1620.3" cy="750.9" r="4.2"/><circle cx="1620.8" cy="752.3" r="4.2"/><circle cx="1621.4" cy="750.4" r="4.2"/><circle cx="1622" cy="750.9" r="4.2"/><circle cx="1622.6" cy="750.5" r="4.2"/><circle cx="1623.1" cy="754.1" r="4.2"/><circle cx="1623.7" cy="752.2" r="4.2"/><circle cx="1624.3" cy="753.5" r="4.2"/><circle cx="1624.9" cy="754" r="4.2"/><circle cx="1625.5" cy="748.6" r="4.2"/><circle cx="1626" cy="750.7" r="4.2"/><circle cx="1626.6" cy="753.4" r="4.2"/><circle cx="1627.2" cy="752.2" r="4.2"/><circle cx="1627.8" cy="746.2" r="4.2"/><circle cx="1628.3" cy="745.5" r="4.2"/><circle cx="1628.9" cy="747.4" r="4.2"/><circle cx="1629.5" cy="744" r="4.2"/><circle cx="1630.1" cy="744.7" r="4.2"/><circle cx="1630.6" cy="742.9" r="4.2"/><circle cx="1631.2" cy="747.1" r="4.2"/><circle cx="1631.8" cy="747.6" r="4.2"/><circle cx="1632.4" cy="748.3" r="4.2"/><circle cx="1632.9" cy="742.3" r="4.2"/><circle cx="1633.5" cy="746.7" r="4.2"/><circle cx="1634.1" cy="746.4" r="4.2"/><circle cx="1634.7" cy="742.7" r="4.2"/><circle cx="1635.2" cy="748.8" r="4.2"/><circle cx="1635.8" cy="749.9" r="4.2"/><circle cx="1636.4" cy="744.5" r="4.2"/><circle cx="1637" cy="750.6" r="4.2"/><circle cx="1637.6" cy="746.7" r="4.2"/><circle cx="1638.1" cy="747.6" r="4.2"/><circle cx="1638.7" cy="751.6" r="4.2"/><circle cx="1639.3" cy="750.2" r="4.2"/><circle cx="1639.9" cy="744.5" r="4.2"/><circle cx="1640.4" cy="745.7" r="4.2"/><circle cx="1641" cy="745.3" r="4.2"/><circle cx="1641.6" cy="742.8" r="4.2"/><circle cx="1642.2" cy="740.4" r="4.2"/><circle cx="1642.7" cy="740.2" r="4.2"/><circle cx="1643.3" cy="742.2" r="4.2"/><circle cx="1643.9" cy="735.8" r="4.2"/><circle cx="1644.5" cy="739.4" r="4.2"/><circle cx="1645" cy="738.2" r="4.2"/><circle cx="1645.6" cy="735" r="4.2"/><circle cx="1646.2" cy="737.7" r="4.2"/><circle cx="1646.8" cy="740.3" r="4.2"/><circle cx="1647.3" cy="739.9" r="4.2"/><circle cx="1647.9" cy="737" r="4.2"/><circle cx="1648.5" cy="744.8" r="4.2"/><circle cx="1649.1" cy="743.9" r="4.2"/><circle cx="1649.7" cy="745.9" r="4.2"/><circle cx="1650.2" cy="739.8" r="4.2"/><circle cx="1650.8" cy="741.5" r="4.2"/><circle cx="1651.4" cy="740.2" r="4.2"/><circle cx="1652" cy="746.3" r="4.2"/><circle cx="1652.5" cy="742.5" r="4.2"/><circle cx="1653.1" cy="741.4" r="4.2"/><circle cx="1653.7" cy="743.6" r="4.2"/><circle cx="1654.3" cy="747.2" r="4.2"/><circle cx="1654.8" cy="746.3" r="4.2"/><circle cx="1655.4" cy="741.6" r="4.2"/><circle cx="1656" cy="740.4" r="4.2"/><circle cx="1656.6" cy="746.1" r="4.2"/><circle cx="1657.1" cy="743" r="4.2"/><circle cx="1657.7" cy="743.7" r="4.2"/><circle cx="1658.3" cy="738.6" r="4.2"/><circle cx="1658.9" cy="738" r="4.2"/><circle cx="1659.4" cy="742.7" r="4.2"/><circle cx="1660" cy="740.4" r="4.2"/><circle cx="1660.6" cy="737.5" r="4.2"/><circle cx="1661.2" cy="744.2" r="4.2"/><circle cx="1661.8" cy="741.6" r="4.2"/><circle cx="1662.3" cy="742.1" r="4.2"/><circle cx="1662.9" cy="735.4" r="4.2"/><circle cx="1663.5" cy="740" r="4.2"/><circle cx="1664.1" cy="732.4" r="4.2"/><circle cx="1664.6" cy="737.1" r="4.2"/><circle cx="1665.2" cy="732.6" r="4.2"/><circle cx="1665.8" cy="730.6" r="4.2"/><circle cx="1666.4" cy="731.6" r="4.2"/><circle cx="1666.9" cy="734.3" r="4.2"/><circle cx="1667.5" cy="729.4" r="4.2"/><circle cx="1668.1" cy="728.7" r="4.2"/><circle cx="1668.7" cy="732.4" r="4.2"/><circle cx="1669.2" cy="731" r="4.2"/><circle cx="1669.8" cy="730.8" r="4.2"/><circle cx="1670.4" cy="732.2" r="4.2"/><circle cx="1671" cy="732.3" r="4.2"/><circle cx="1671.5" cy="734.5" r="4.2"/><circle cx="1672.1" cy="736.4" r="4.2"/><circle cx="1672.7" cy="737.2" r="4.2"/><circle cx="1673.3" cy="741.5" r="4.2"/><circle cx="1673.9" cy="738.5" r="4.2"/><circle cx="1674.4" cy="740.6" r="4.2"/><circle cx="1675" cy="738.3" r="4.2"/><circle cx="1675.6" cy="739.6" r="4.2"/><circle cx="1676.2" cy="736.8" r="4.2"/><circle cx="1676.7" cy="738.3" r="4.2"/><circle cx="1677.3" cy="736.1" r="4.2"/><circle cx="1677.9" cy="741.2" r="4.2"/><circle cx="1678.5" cy="739.3" r="4.2"/><circle cx="1679" cy="736" r="4.2"/><circle cx="1679.6" cy="737.7" r="4.2"/><circle cx="1680.2" cy="740.8" r="4.2"/><circle cx="1680.8" cy="734" r="4.2"/><circle cx="1681.3" cy="739.3" r="4.2"/><circle cx="1681.9" cy="736.1" r="4.2"/><circle cx="1682.5" cy="736.5" r="4.2"/><circle cx="1683.1" cy="739" r="4.2"/><circle cx="1683.7" cy="735.1" r="4.2"/><circle cx="1684.2" cy="735.5" r="4.2"/><circle cx="1684.8" cy="736.2" r="4.2"/><circle cx="1685.4" cy="737.8" r="4.2"/><circle cx="1686" cy="732" r="4.2"/><circle cx="1686.5" cy="735" r="4.2"/><circle cx="1687.1" cy="733.3" r="4.2"/><circle cx="1687.7" cy="732.1" r="4.2"/><circle cx="1688.3" cy="729.7" r="4.2"/><circle cx="1688.8" cy="728.8" r="4.2"/><circle cx="1689.4" cy="726.2" r="4.2"/><circle cx="1690" cy="726.7" r="4.2"/><circle cx="1690.6" cy="726.5" r="4.2"/><circle cx="1691.1" cy="732.2" r="4.2"/><circle cx="1691.7" cy="729.1" r="4.2"/><circle cx="1692.3" cy="729.4" r="4.2"/><circle cx="1692.9" cy="729.9" r="4.2"/><circle cx="1693.4" cy="737" r="4.2"/><circle cx="1694" cy="738.5" r="4.2"/><circle cx="1694.6" cy="738.3" r="4.2"/><circle cx="1695.2" cy="736.6" r="4.2"/><circle cx="1695.8" cy="737.5" r="4.2"/><circle cx="1696.3" cy="739.1" r="4.2"/><circle cx="1696.9" cy="741.4" r="4.2"/><circle cx="1697.5" cy="739.9" r="4.2"/><circle cx="1698.1" cy="742.8" r="4.2"/><circle cx="1698.6" cy="741.7" r="4.2"/><circle cx="1699.2" cy="747.2" r="4.2"/><circle cx="1699.8" cy="747.1" r="4.2"/><circle cx="1700.4" cy="743.4" r="4.2"/><circle cx="1700.9" cy="740.6" r="4.2"/><circle cx="1701.5" cy="745.6" r="4.2"/><circle cx="1702.1" cy="739.8" r="4.2"/><circle cx="1702.7" cy="739.5" r="4.2"/><circle cx="1703.2" cy="736" r="4.2"/><circle cx="1703.8" cy="738.4" r="4.2"/><circle cx="1704.4" cy="738.6" r="4.2"/><circle cx="1705" cy="738.3" r="4.2"/><circle cx="1705.5" cy="735.7" r="4.2"/><circle cx="1706.1" cy="738" r="4.2"/><circle cx="1706.7" cy="734.1" r="4.2"/><circle cx="1707.3" cy="736.1" r="4.2"/><circle cx="1707.9" cy="734.8" r="4.2"/><circle cx="1708.4" cy="737.1" r="4.2"/><circle cx="1709" cy="734.3" r="4.2"/><circle cx="1709.6" cy="734.1" r="4.2"/><circle cx="1710.2" cy="736.3" r="4.2"/><circle cx="1710.7" cy="735.7" r="4.2"/><circle cx="1711.3" cy="738.4" r="4.2"/><circle cx="1711.9" cy="737.9" r="4.2"/><circle cx="1712.5" cy="739.6" r="4.2"/><circle cx="1713" cy="738.8" r="4.2"/><circle cx="1713.6" cy="739.3" r="4.2"/><circle cx="1714.2" cy="740.5" r="4.2"/><circle cx="1714.8" cy="736.7" r="4.2"/><circle cx="1715.3" cy="736.2" r="4.2"/><circle cx="1715.9" cy="741.3" r="4.2"/><circle cx="1716.5" cy="734.7" r="4.2"/><circle cx="1717.1" cy="739" r="4.2"/><circle cx="1717.6" cy="738.1" r="4.2"/><circle cx="1718.2" cy="733" r="4.2"/><circle cx="1718.8" cy="738.7" r="4.2"/><circle cx="1719.4" cy="738.6" r="4.2"/><circle cx="1720" cy="735.9" r="4.2"/><circle cx="1720.5" cy="736.1" r="4.2"/><circle cx="1721.1" cy="736.2" r="4.2"/><circle cx="1721.7" cy="730.3" r="4.2"/><circle cx="1722.3" cy="732.8" r="4.2"/><circle cx="1722.8" cy="732.1" r="4.2"/><circle cx="1723.4" cy="734.3" r="4.2"/><circle cx="1724" cy="733.7" r="4.2"/><circle cx="1724.6" cy="733.6" r="4.2"/><circle cx="1725.1" cy="731.7" r="4.2"/><circle cx="1725.7" cy="734.1" r="4.2"/><circle cx="1726.3" cy="732.6" r="4.2"/><circle cx="1726.9" cy="732.9" r="4.2"/><circle cx="1727.4" cy="729.6" r="4.2"/><circle cx="1728" cy="728.5" r="4.2"/><circle cx="1728.6" cy="729.7" r="4.2"/><circle cx="1729.2" cy="731.9" r="4.2"/><circle cx="1729.7" cy="730.4" r="4.2"/><circle cx="1730.3" cy="736.7" r="4.2"/><circle cx="1730.9" cy="735.1" r="4.2"/><circle cx="1731.5" cy="736.1" r="4.2"/><circle cx="1732.1" cy="736.6" r="4.2"/><circle cx="1732.6" cy="737.6" r="4.2"/><circle cx="1733.2" cy="736.5" r="4.2"/><circle cx="1733.8" cy="733.2" r="4.2"/><circle cx="1734.4" cy="739.7" r="4.2"/><circle cx="1734.9" cy="739.6" r="4.2"/><circle cx="1735.5" cy="737.9" r="4.2"/><circle cx="1736.1" cy="738.3" r="4.2"/><circle cx="1736.7" cy="739.2" r="4.2"/><circle cx="1737.2" cy="734.4" r="4.2"/><circle cx="1737.8" cy="739.4" r="4.2"/><circle cx="1738.4" cy="735.2" r="4.2"/><circle cx="1739" cy="733.3" r="4.2"/><circle cx="1739.5" cy="734.1" r="4.2"/><circle cx="1740.1" cy="737.1" r="4.2"/><circle cx="1740.7" cy="732.3" r="4.2"/><circle cx="1741.3" cy="735.7" r="4.2"/><circle cx="1741.8" cy="736.8" r="4.2"/><circle cx="1742.4" cy="732.3" r="4.2"/><circle cx="1743" cy="730.8" r="4.2"/><circle cx="1743.6" cy="730.9" r="4.2"/><circle cx="1744.2" cy="732" r="4.2"/><circle cx="1744.7" cy="732.2" r="4.2"/><circle cx="1745.3" cy="730.7" r="4.2"/><circle cx="1745.9" cy="730.7" r="4.2"/><circle cx="1746.5" cy="726.3" r="4.2"/><circle cx="1747" cy="726.8" r="4.2"/><circle cx="1747.6" cy="727.5" r="4.2"/><circle cx="1748.2" cy="731.1" r="4.2"/><circle cx="1748.8" cy="727.5" r="4.2"/><circle cx="1749.3" cy="729.3" r="4.2"/><circle cx="1749.9" cy="724.6" r="4.2"/><circle cx="1750.5" cy="724.7" r="4.2"/><circle cx="1751.1" cy="725.9" r="4.2"/><circle cx="1751.6" cy="728.7" r="4.2"/><circle cx="1752.2" cy="728.5" r="4.2"/><circle cx="1752.8" cy="728" r="4.2"/><circle cx="1753.4" cy="724.6" r="4.2"/><circle cx="1753.9" cy="726" r="4.2"/><circle cx="1754.5" cy="725.2" r="4.2"/><circle cx="1755.1" cy="724.9" r="4.2"/><circle cx="1755.7" cy="721.9" r="4.2"/><circle cx="1756.3" cy="727.7" r="4.2"/><circle cx="1756.8" cy="722" r="4.2"/><circle cx="1757.4" cy="727.9" r="4.2"/><circle cx="1758" cy="727.5" r="4.2"/><circle cx="1758.6" cy="720.2" r="4.2"/><circle cx="1759.1" cy="723.8" r="4.2"/><circle cx="1759.7" cy="727.1" r="4.2"/><circle cx="1760.3" cy="729.1" r="4.2"/><circle cx="1760.9" cy="726.2" r="4.2"/><circle cx="1761.4" cy="726" r="4.2"/><circle cx="1762" cy="726.9" r="4.2"/><circle cx="1762.6" cy="733.8" r="4.2"/><circle cx="1763.2" cy="729.1" r="4.2"/><circle cx="1763.7" cy="732.7" r="4.2"/><circle cx="1764.3" cy="729.6" r="4.2"/><circle cx="1764.9" cy="732.5" r="4.2"/><circle cx="1765.5" cy="735.5" r="4.2"/><circle cx="1766.1" cy="728.6" r="4.2"/><circle cx="1766.6" cy="733.2" r="4.2"/><circle cx="1767.2" cy="730" r="4.2"/><circle cx="1767.8" cy="732.1" r="4.2"/><circle cx="1768.4" cy="729.8" r="4.2"/><circle cx="1768.9" cy="725.3" r="4.2"/><circle cx="1769.5" cy="729.8" r="4.2"/><circle cx="1770.1" cy="725.9" r="4.2"/><circle cx="1770.7" cy="721.9" r="4.2"/><circle cx="1771.2" cy="721.5" r="4.2"/><circle cx="1771.8" cy="725.4" r="4.2"/><circle cx="1772.4" cy="725.6" r="4.2"/><circle cx="1773" cy="725.2" r="4.2"/><circle cx="1773.5" cy="724.9" r="4.2"/><circle cx="1774.1" cy="727.5" r="4.2"/><circle cx="1774.7" cy="728.4" r="4.2"/><circle cx="1775.3" cy="733.5" r="4.2"/><circle cx="1775.8" cy="727.7" r="4.2"/><circle cx="1776.4" cy="734.1" r="4.2"/><circle cx="1777" cy="735" r="4.2"/><circle cx="1777.6" cy="729.4" r="4.2"/><circle cx="1778.2" cy="735.6" r="4.2"/><circle cx="1778.7" cy="733.9" r="4.2"/><circle cx="1779.3" cy="735.2" r="4.2"/><circle cx="1779.9" cy="730.3" r="4.2"/><circle cx="1780.5" cy="730.8" r="4.2"/><circle cx="1781" cy="730.7" r="4.2"/><circle cx="1781.6" cy="735.2" r="4.2"/><circle cx="1782.2" cy="731.8" r="4.2"/><circle cx="1782.8" cy="729.8" r="4.2"/><circle cx="1783.3" cy="730" r="4.2"/><circle cx="1783.9" cy="728.6" r="4.2"/><circle cx="1784.5" cy="726.6" r="4.2"/><circle cx="1785.1" cy="726.7" r="4.2"/><circle cx="1785.6" cy="732.2" r="4.2"/><circle cx="1786.2" cy="727.7" r="4.2"/><circle cx="1786.8" cy="732.5" r="4.2"/><circle cx="1787.4" cy="726.9" r="4.2"/><circle cx="1787.9" cy="726.9" r="4.2"/><circle cx="1788.5" cy="728.6" r="4.2"/><circle cx="1789.1" cy="726" r="4.2"/><circle cx="1789.7" cy="727.3" r="4.2"/><circle cx="1790.3" cy="731.8" r="4.2"/><circle cx="1790.8" cy="731.2" r="4.2"/><circle cx="1791.4" cy="730.6" r="4.2"/><circle cx="1792" cy="729.3" r="4.2"/><circle cx="1792.6" cy="731.6" r="4.2"/><circle cx="1793.1" cy="732" r="4.2"/><circle cx="1793.7" cy="729.1" r="4.2"/><circle cx="1794.3" cy="730.6" r="4.2"/><circle cx="1794.9" cy="725.6" r="4.2"/><circle cx="1795.4" cy="731.2" r="4.2"/><circle cx="1796" cy="729.3" r="4.2"/><circle cx="1796.6" cy="731.9" r="4.2"/><circle cx="1797.2" cy="731.3" r="4.2"/><circle cx="1797.7" cy="728.7" r="4.2"/><circle cx="1798.3" cy="727" r="4.2"/><circle cx="1798.9" cy="734.1" r="4.2"/><circle cx="1799.5" cy="728" r="4.2"/><circle cx="1800" cy="730.7" r="4.2"/><circle cx="1800.6" cy="729.6" r="4.2"/><circle cx="1801.2" cy="729.1" r="4.2"/><circle cx="1801.8" cy="732.8" r="4.2"/><circle cx="1802.4" cy="734.3" r="4.2"/><circle cx="1802.9" cy="727.1" r="4.2"/><circle cx="1803.5" cy="729.7" r="4.2"/><circle cx="1804.1" cy="725.4" r="4.2"/><circle cx="1804.7" cy="726.5" r="4.2"/><circle cx="1805.2" cy="723.8" r="4.2"/><circle cx="1805.8" cy="720.3" r="4.2"/><circle cx="1806.4" cy="718.9" r="4.2"/><circle cx="1807" cy="717.9" r="4.2"/><circle cx="1807.5" cy="722.8" r="4.2"/><circle cx="1808.1" cy="717.8" r="4.2"/><circle cx="1808.7" cy="714.1" r="4.2"/><circle cx="1809.3" cy="719.2" r="4.2"/><circle cx="1809.8" cy="719" r="4.2"/><circle cx="1810.4" cy="713.3" r="4.2"/><circle cx="1811" cy="710" r="4.2"/><circle cx="1811.6" cy="710.1" r="4.2"/><circle cx="1812.1" cy="709.1" r="4.2"/><circle cx="1812.7" cy="711.9" r="4.2"/><circle cx="1813.3" cy="710.7" r="4.2"/><circle cx="1813.9" cy="713.4" r="4.2"/><circle cx="1814.5" cy="715.2" r="4.2"/><circle cx="1815" cy="719.7" r="4.2"/><circle cx="1815.6" cy="724.2" r="4.2"/><circle cx="1816.2" cy="724.5" r="4.2"/><circle cx="1816.8" cy="722.5" r="4.2"/><circle cx="1817.3" cy="723.2" r="4.2"/><circle cx="1817.9" cy="724.2" r="4.2"/><circle cx="1818.5" cy="722.5" r="4.2"/><circle cx="1819.1" cy="721.6" r="4.2"/><circle cx="1819.6" cy="718.4" r="4.2"/><circle cx="1820.2" cy="719.4" r="4.2"/><circle cx="1820.8" cy="724.6" r="4.2"/><circle cx="1821.4" cy="715.9" r="4.2"/><circle cx="1821.9" cy="718.1" r="4.2"/><circle cx="1822.5" cy="718.1" r="4.2"/><circle cx="1823.1" cy="719.2" r="4.2"/><circle cx="1823.7" cy="712.3" r="4.2"/><circle cx="1824.2" cy="712" r="4.2"/><circle cx="1824.8" cy="711.1" r="4.2"/><circle cx="1825.4" cy="712.1" r="4.2"/><circle cx="1826" cy="712.3" r="4.2"/><circle cx="1826.6" cy="716.7" r="4.2"/><circle cx="1827.1" cy="715.3" r="4.2"/><circle cx="1827.7" cy="714.7" r="4.2"/><circle cx="1828.3" cy="706.1" r="4.2"/><circle cx="1828.9" cy="705" r="4.2"/><circle cx="1829.4" cy="709.9" r="4.2"/><circle cx="1830" cy="710.4" r="4.2"/><circle cx="1830.6" cy="705.4" r="4.2"/><circle cx="1831.2" cy="705.5" r="4.2"/><circle cx="1831.7" cy="699.3" r="4.2"/><circle cx="1832.3" cy="702.3" r="4.2"/><circle cx="1832.9" cy="706.8" r="4.2"/><circle cx="1833.5" cy="706.1" r="4.2"/><circle cx="1834" cy="707.1" r="4.2"/><circle cx="1834.6" cy="709.2" r="4.2"/><circle cx="1835.2" cy="704.1" r="4.2"/><circle cx="1835.8" cy="704.3" r="4.2"/><circle cx="1836.3" cy="706.2" r="4.2"/><circle cx="1836.9" cy="710.9" r="4.2"/><circle cx="1837.5" cy="713.5" r="4.2"/><circle cx="1838.1" cy="716.5" r="4.2"/><circle cx="1838.7" cy="714.8" r="4.2"/><circle cx="1839.2" cy="713.9" r="4.2"/><circle cx="1839.8" cy="714.2" r="4.2"/><circle cx="1840.4" cy="710.5" r="4.2"/><circle cx="1841" cy="710.2" r="4.2"/><circle cx="1841.5" cy="704.3" r="4.2"/><circle cx="1842.1" cy="709.6" r="4.2"/><circle cx="1842.7" cy="703.4" r="4.2"/><circle cx="1843.3" cy="708.4" r="4.2"/><circle cx="1843.8" cy="705" r="4.2"/><circle cx="1844.4" cy="701.4" r="4.2"/><circle cx="1845" cy="699.7" r="4.2"/><circle cx="1845.6" cy="700.9" r="4.2"/><circle cx="1846.1" cy="704.5" r="4.2"/><circle cx="1846.7" cy="705.4" r="4.2"/><circle cx="1847.3" cy="700.5" r="4.2"/><circle cx="1847.9" cy="700.5" r="4.2"/><circle cx="1848.4" cy="705.1" r="4.2"/><circle cx="1849" cy="706.2" r="4.2"/><circle cx="1849.6" cy="704.9" r="4.2"/><circle cx="1850.2" cy="704" r="4.2"/><circle cx="1850.8" cy="707.9" r="4.2"/><circle cx="1851.3" cy="703" r="4.2"/><circle cx="1851.9" cy="706.1" r="4.2"/><circle cx="1852.5" cy="707.8" r="4.2"/><circle cx="1853.1" cy="712.6" r="4.2"/><circle cx="1853.6" cy="709.9" r="4.2"/><circle cx="1854.2" cy="712" r="4.2"/><circle cx="1854.8" cy="708.2" r="4.2"/><circle cx="1855.4" cy="705.8" r="4.2"/><circle cx="1855.9" cy="705.4" r="4.2"/><circle cx="1856.5" cy="711.3" r="4.2"/><circle cx="1857.1" cy="708.4" r="4.2"/><circle cx="1857.7" cy="704" r="4.2"/><circle cx="1858.2" cy="700.7" r="4.2"/><circle cx="1858.8" cy="704.1" r="4.2"/><circle cx="1859.4" cy="704.9" r="4.2"/><circle cx="1860" cy="701.7" r="4.2"/><circle cx="1860.6" cy="699.4" r="4.2"/><circle cx="1861.1" cy="702.3" r="4.2"/><circle cx="1861.7" cy="703.8" r="4.2"/><circle cx="1862.3" cy="696.8" r="4.2"/><circle cx="1862.9" cy="694.5" r="4.2"/><circle cx="1863.4" cy="696.7" r="4.2"/><circle cx="1864" cy="697" r="4.2"/><circle cx="1864.6" cy="699.1" r="4.2"/><circle cx="1865.2" cy="694.7" r="4.2"/><circle cx="1865.7" cy="700" r="4.2"/><circle cx="1866.3" cy="699.1" r="4.2"/><circle cx="1866.9" cy="696.3" r="4.2"/><circle cx="1867.5" cy="692.8" r="4.2"/><circle cx="1868" cy="698.8" r="4.2"/><circle cx="1868.6" cy="691.8" r="4.2"/><circle cx="1869.2" cy="695.2" r="4.2"/><circle cx="1869.8" cy="688.7" r="4.2"/><circle cx="1870.3" cy="687.4" r="4.2"/><circle cx="1870.9" cy="691" r="4.2"/><circle cx="1871.5" cy="685.6" r="4.2"/><circle cx="1872.1" cy="690.5" r="4.2"/><circle cx="1872.7" cy="685.4" r="4.2"/><circle cx="1873.2" cy="681.8" r="4.2"/><circle cx="1873.8" cy="681.5" r="4.2"/><circle cx="1874.4" cy="682.8" r="4.2"/><circle cx="1875" cy="684.9" r="4.2"/><circle cx="1875.5" cy="687.8" r="4.2"/><circle cx="1876.1" cy="681.6" r="4.2"/><circle cx="1876.7" cy="685.5" r="4.2"/><circle cx="1877.3" cy="685.8" r="4.2"/><circle cx="1877.8" cy="694.8" r="4.2"/><circle cx="1878.4" cy="689.4" r="4.2"/><circle cx="1879" cy="690.6" r="4.2"/><circle cx="1879.6" cy="692.2" r="4.2"/><circle cx="1880.1" cy="696.2" r="4.2"/><circle cx="1880.7" cy="701" r="4.2"/><circle cx="1881.3" cy="700.9" r="4.2"/><circle cx="1881.9" cy="699.5" r="4.2"/><circle cx="1882.4" cy="701.9" r="4.2"/><circle cx="1883" cy="701.3" r="4.2"/><circle cx="1883.6" cy="695.9" r="4.2"/><circle cx="1884.2" cy="694.6" r="4.2"/><circle cx="1884.8" cy="701.3" r="4.2"/><circle cx="1885.3" cy="699.6" r="4.2"/><circle cx="1885.9" cy="693.2" r="4.2"/><circle cx="1886.5" cy="698.9" r="4.2"/><circle cx="1887.1" cy="696.3" r="4.2"/><circle cx="1887.6" cy="696.3" r="4.2"/><circle cx="1888.2" cy="695.9" r="4.2"/><circle cx="1888.8" cy="694.4" r="4.2"/><circle cx="1889.4" cy="692.9" r="4.2"/><circle cx="1889.9" cy="695.4" r="4.2"/><circle cx="1890.5" cy="696.1" r="4.2"/><circle cx="1891.1" cy="701.5" r="4.2"/><circle cx="1891.7" cy="694" r="4.2"/><circle cx="1892.2" cy="701.6" r="4.2"/><circle cx="1892.8" cy="694.8" r="4.2"/><circle cx="1893.4" cy="696.1" r="4.2"/><circle cx="1894" cy="700.3" r="4.2"/><circle cx="1894.5" cy="700.3" r="4.2"/><circle cx="1895.1" cy="696.8" r="4.2"/><circle cx="1895.7" cy="693.3" r="4.2"/><circle cx="1896.3" cy="697.2" r="4.2"/><circle cx="1896.9" cy="696.2" r="4.2"/><circle cx="1897.4" cy="701.1" r="4.2"/><circle cx="1898" cy="694.4" r="4.2"/><circle cx="1898.6" cy="695.8" r="4.2"/><circle cx="1899.2" cy="700.4" r="4.2"/><circle cx="1899.7" cy="692.4" r="4.2"/><circle cx="1900.3" cy="695.6" r="4.2"/><circle cx="1900.9" cy="699" r="4.2"/><circle cx="1901.5" cy="698.4" r="4.2"/><circle cx="1902" cy="691.6" r="4.2"/><circle cx="1902.6" cy="691.3" r="4.2"/><circle cx="1903.2" cy="691.3" r="4.2"/><circle cx="1903.8" cy="698.7" r="4.2"/><circle cx="1904.3" cy="692.5" r="4.2"/><circle cx="1904.9" cy="696.7" r="4.2"/><circle cx="1905.5" cy="697.8" r="4.2"/><circle cx="1906.1" cy="692.6" r="4.2"/><circle cx="1906.6" cy="691.8" r="4.2"/><circle cx="1907.2" cy="697.7" r="4.2"/><circle cx="1907.8" cy="694.5" r="4.2"/><circle cx="1908.4" cy="691.2" r="4.2"/><circle cx="1909" cy="695.2" r="4.2"/><circle cx="1909.5" cy="691.6" r="4.2"/><circle cx="1910.1" cy="691.2" r="4.2"/><circle cx="1910.7" cy="688.7" r="4.2"/><circle cx="1911.3" cy="695.5" r="4.2"/><circle cx="1911.8" cy="696.9" r="4.2"/><circle cx="1912.4" cy="694.4" r="4.2"/><circle cx="1913" cy="697.2" r="4.2"/><circle cx="1913.6" cy="688.9" r="4.2"/><circle cx="1914.1" cy="690.8" r="4.2"/><circle cx="1914.7" cy="693" r="4.2"/><circle cx="1915.3" cy="697.3" r="4.2"/><circle cx="1915.9" cy="697.3" r="4.2"/><circle cx="1916.4" cy="692.2" r="4.2"/><circle cx="1917" cy="691" r="4.2"/><circle cx="1917.6" cy="692.6" r="4.2"/><circle cx="1918.2" cy="693.1" r="4.2"/><circle cx="1918.7" cy="697.1" r="4.2"/><circle cx="1919.3" cy="690.3" r="4.2"/><circle cx="1919.9" cy="695.9" r="4.2"/><circle cx="1920.5" cy="695.3" r="4.2"/><circle cx="1921.1" cy="696.1" r="4.2"/><circle cx="1921.6" cy="695.7" r="4.2"/><circle cx="1922.2" cy="694.2" r="4.2"/><circle cx="1922.8" cy="691.7" r="4.2"/><circle cx="1923.4" cy="691.6" r="4.2"/><circle cx="1923.9" cy="692" r="4.2"/><circle cx="1924.5" cy="695.7" r="4.2"/><circle cx="1925.1" cy="689.2" r="4.2"/><circle cx="1925.7" cy="689.9" r="4.2"/><circle cx="1926.2" cy="694.5" r="4.2"/><circle cx="1926.8" cy="689.4" r="4.2"/><circle cx="1927.4" cy="687.1" r="4.2"/><circle cx="1928" cy="686.2" r="4.2"/><circle cx="1928.5" cy="690.1" r="4.2"/><circle cx="1929.1" cy="687.4" r="4.2"/><circle cx="1929.7" cy="692.5" r="4.2"/><circle cx="1930.3" cy="690.9" r="4.2"/><circle cx="1930.8" cy="691.1" r="4.2"/><circle cx="1931.4" cy="683.9" r="4.2"/><circle cx="1932" cy="681.6" r="4.2"/><circle cx="1932.6" cy="681.1" r="4.2"/><circle cx="1933.2" cy="684.2" r="4.2"/><circle cx="1933.7" cy="685.7" r="4.2"/><circle cx="1934.3" cy="683.1" r="4.2"/><circle cx="1934.9" cy="681" r="4.2"/><circle cx="1935.5" cy="682.6" r="4.2"/><circle cx="1936" cy="684.4" r="4.2"/><circle cx="1936.6" cy="684.8" r="4.2"/><circle cx="1937.2" cy="685.4" r="4.2"/><circle cx="1937.8" cy="686.1" r="4.2"/><circle cx="1938.3" cy="684.3" r="4.2"/><circle cx="1938.9" cy="679.3" r="4.2"/><circle cx="1939.5" cy="685.5" r="4.2"/><circle cx="1940.1" cy="680.4" r="4.2"/><circle cx="1940.6" cy="682.7" r="4.2"/><circle cx="1941.2" cy="680.7" r="4.2"/><circle cx="1941.8" cy="683.8" r="4.2"/><circle cx="1942.4" cy="678.7" r="4.2"/><circle cx="1943" cy="679" r="4.2"/><circle cx="1943.5" cy="678.8" r="4.2"/><circle cx="1944.1" cy="677.8" r="4.2"/><circle cx="1944.7" cy="684.2" r="4.2"/><circle cx="1945.3" cy="681.4" r="4.2"/><circle cx="1945.8" cy="679.1" r="4.2"/><circle cx="1946.4" cy="679.7" r="4.2"/><circle cx="1947" cy="685" r="4.2"/><circle cx="1947.6" cy="680.5" r="4.2"/><circle cx="1948.1" cy="677.9" r="4.2"/><circle cx="1948.7" cy="682.9" r="4.2"/><circle cx="1949.3" cy="681.2" r="4.2"/><circle cx="1949.9" cy="684" r="4.2"/><circle cx="1950.4" cy="675.7" r="4.2"/><circle cx="1951" cy="678.7" r="4.2"/><circle cx="1951.6" cy="681.4" r="4.2"/><circle cx="1952.2" cy="681.2" r="4.2"/><circle cx="1952.7" cy="681.5" r="4.2"/><circle cx="1953.3" cy="673.2" r="4.2"/><circle cx="1953.9" cy="675.2" r="4.2"/><circle cx="1954.5" cy="673.2" r="4.2"/><circle cx="1955.1" cy="673.5" r="4.2"/><circle cx="1955.6" cy="680.2" r="4.2"/><circle cx="1956.2" cy="676.5" r="4.2"/><circle cx="1956.8" cy="679.3" r="4.2"/><circle cx="1957.4" cy="674.1" r="4.2"/><circle cx="1957.9" cy="678.4" r="4.2"/><circle cx="1958.5" cy="674.6" r="4.2"/><circle cx="1959.1" cy="672.8" r="4.2"/><circle cx="1959.7" cy="677.3" r="4.2"/><circle cx="1960.2" cy="678.4" r="4.2"/><circle cx="1960.8" cy="670.1" r="4.2"/><circle cx="1961.4" cy="673.7" r="4.2"/><circle cx="1962" cy="672.9" r="4.2"/><circle cx="1962.5" cy="668.2" r="4.2"/><circle cx="1963.1" cy="668.4" r="4.2"/><circle cx="1963.7" cy="665.2" r="4.2"/><circle cx="1964.3" cy="664.6" r="4.2"/><circle cx="1964.8" cy="664.1" r="4.2"/><circle cx="1965.4" cy="666.3" r="4.2"/><circle cx="1966" cy="666" r="4.2"/><circle cx="1966.6" cy="661.4" r="4.2"/><circle cx="1967.2" cy="659.4" r="4.2"/><circle cx="1967.7" cy="662.3" r="4.2"/><circle cx="1968.3" cy="665.6" r="4.2"/><circle cx="1968.9" cy="661.5" r="4.2"/><circle cx="1969.5" cy="663.1" r="4.2"/><circle cx="1970" cy="662.6" r="4.2"/><circle cx="1970.6" cy="668.6" r="4.2"/><circle cx="1971.2" cy="667" r="4.2"/><circle cx="1971.8" cy="663.4" r="4.2"/><circle cx="1972.3" cy="664.5" r="4.2"/><circle cx="1972.9" cy="667.8" r="4.2"/><circle cx="1973.5" cy="670" r="4.2"/><circle cx="1974.1" cy="671.4" r="4.2"/><circle cx="1974.6" cy="667.1" r="4.2"/><circle cx="1975.2" cy="668.3" r="4.2"/><circle cx="1975.8" cy="673.5" r="4.2"/><circle cx="1976.4" cy="671.2" r="4.2"/><circle cx="1976.9" cy="670.2" r="4.2"/><circle cx="1977.5" cy="670.5" r="4.2"/><circle cx="1978.1" cy="676.3" r="4.2"/><circle cx="1947.8" cy="665.9" r="3.6" fill="#008000" fill-opacity="1"/></g>
<rect x="1458.5" y="599.3" width="520.1" height="399.5" fill="none" stroke="#000" stroke-width="3.4"/>
<line x1="1449.5" y1="998.8" x2="1458.5" y2="998.8" stroke="#000" stroke-width="2.8"/>
<text x="1446" y="1003.9" font-family='"Liberation Sans", sans-serif' font-size="22.8" fill="#000" text-anchor="end" stroke="#000" stroke-width="0.8">0</text>
<line x1="1453" y1="970.3" x2="1458.5" y2="970.3" stroke="#000" stroke-width="2.8"/>
<line x1="1449.5" y1="941.7" x2="1458.5" y2="941.7" stroke="#000" stroke-width="2.8"/>
<text x="1446" y="946.8" font-family='"Liberation Sans", sans-serif' font-size="22.8" fill="#000" text-anchor="end" stroke="#000" stroke-width="0.8">40</text>
<line x1="1453" y1="913.2" x2="1458.5" y2="913.2" stroke="#000" stroke-width="2.8"/>
<line x1="1449.5" y1="884.7" x2="1458.5" y2="884.7" stroke="#000" stroke-width="2.8"/>
<text x="1446" y="889.8" font-family='"Liberation Sans", sans-serif' font-size="22.8" fill="#000" text-anchor="end" stroke="#000" stroke-width="0.8">80</text>
<line x1="1453" y1="856.1" x2="1458.5" y2="856.1" stroke="#000" stroke-width="2.8"/>
<line x1="1449.5" y1="827.6" x2="1458.5" y2="827.6" stroke="#000" stroke-width="2.8"/>
<text x="1446" y="832.7" font-family='"Liberation Sans", sans-serif' font-size="22.8" fill="#000" text-anchor="end" stroke="#000" stroke-width="0.8">120</text>
<line x1="1453" y1="799" x2="1458.5" y2="799" stroke="#000" stroke-width="2.8"/>
<line x1="1449.5" y1="770.5" x2="1458.5" y2="770.5" stroke="#000" stroke-width="2.8"/>
<text x="1446" y="775.6" font-family='"Liberation Sans", sans-serif' font-size="22.8" fill="#000" text-anchor="end" stroke="#000" stroke-width="0.8">160</text>
<line x1="1453" y1="742" x2="1458.5" y2="742" stroke="#000" stroke-width="2.8"/>
<line x1="1449.5" y1="713.4" x2="1458.5" y2="713.4" stroke="#000" stroke-width="2.8"/>
<text x="1446" y="718.5" font-family='"Liberation Sans", sans-serif' font-size="22.8" fill="#000" text-anchor="end" stroke="#000" stroke-width="0.8">200</text>
<line x1="1453" y1="684.9" x2="1458.5" y2="684.9" stroke="#000" stroke-width="2.8"/>
<line x1="1449.5" y1="656.4" x2="1458.5" y2="656.4" stroke="#000" stroke-width="2.8"/>
<text x="1446" y="661.5" font-family='"Liberation Sans", sans-serif' font-size="22.8" fill="#000" text-anchor="end" stroke="#000" stroke-width="0.8">240</text>
<line x1="1453" y1="627.8" x2="1458.5" y2="627.8" stroke="#000" stroke-width="2.8"/>
<line x1="1449.5" y1="599.3" x2="1458.5" y2="599.3" stroke="#000" stroke-width="2.8"/>
<text x="1446" y="604.4" font-family='"Liberation Sans", sans-serif' font-size="22.8" fill="#000" text-anchor="end" stroke="#000" stroke-width="0.8">280</text>
<line x1="1458.5" y1="998.8" x2="1458.5" y2="1008.3" stroke="#000" stroke-width="2.8"/>
<text x="1458.2" y="1027.8" font-family='"Liberation Sans", sans-serif' font-size="22.6" fill="#000" text-anchor="middle" stroke="#000" stroke-width="0.8">0</text>
<line x1="1501.8" y1="998.8" x2="1501.8" y2="1004.3" stroke="#000" stroke-width="2.8"/>
<line x1="1545.2" y1="998.8" x2="1545.2" y2="1008.3" stroke="#000" stroke-width="2.8"/>
<text x="1544.9" y="1027.8" font-family='"Liberation Sans", sans-serif' font-size="22.6" fill="#000" text-anchor="middle" stroke="#000" stroke-width="0.8">150</text>
<line x1="1588.5" y1="998.8" x2="1588.5" y2="1004.3" stroke="#000" stroke-width="2.8"/>
<line x1="1631.9" y1="998.8" x2="1631.9" y2="1008.3" stroke="#000" stroke-width="2.8"/>
<text x="1631.6" y="1027.8" font-family='"Liberation Sans", sans-serif' font-size="22.6" fill="#000" text-anchor="middle" stroke="#000" stroke-width="0.8">300</text>
<line x1="1675.2" y1="998.8" x2="1675.2" y2="1004.3" stroke="#000" stroke-width="2.8"/>
<line x1="1718.5" y1="998.8" x2="1718.5" y2="1008.3" stroke="#000" stroke-width="2.8"/>
<text x="1718.2" y="1027.8" font-family='"Liberation Sans", sans-serif' font-size="22.6" fill="#000" text-anchor="middle" stroke="#000" stroke-width="0.8">450</text>
<line x1="1761.9" y1="998.8" x2="1761.9" y2="1004.3" stroke="#000" stroke-width="2.8"/>
<line x1="1805.2" y1="998.8" x2="1805.2" y2="1008.3" stroke="#000" stroke-width="2.8"/>
<text x="1804.9" y="1027.8" font-family='"Liberation Sans", sans-serif' font-size="22.6" fill="#000" text-anchor="middle" stroke="#000" stroke-width="0.8">600</text>
<line x1="1848.6" y1="998.8" x2="1848.6" y2="1004.3" stroke="#000" stroke-width="2.8"/>
<line x1="1891.9" y1="998.8" x2="1891.9" y2="1008.3" stroke="#000" stroke-width="2.8"/>
<text x="1891.6" y="1027.8" font-family='"Liberation Sans", sans-serif' font-size="22.6" fill="#000" text-anchor="middle" stroke="#000" stroke-width="0.8">750</text>
<line x1="1935.3" y1="998.8" x2="1935.3" y2="1004.3" stroke="#000" stroke-width="2.8"/>
<line x1="1978.6" y1="998.8" x2="1978.6" y2="1008.3" stroke="#000" stroke-width="2.8"/>
<text x="1978.3" y="1027.8" font-family='"Liberation Sans", sans-serif' font-size="22.6" fill="#000" text-anchor="middle" stroke="#000" stroke-width="0.8">900</text>
<text x="1624.8" y="1061.5" font-family='"Liberation Sans", sans-serif' font-size="28.3" fill="#000" font-weight="bold">Cycle number</text>
<text x="1392" y="971.9" font-family='"Liberation Sans", sans-serif' font-size="30.5" fill="#000" font-weight="bold" transform="rotate(-90 1392 971.9)">Specific capacity / C g<tspan font-size="17" dy="-15">-1</tspan></text>
</g>
<text x="2.3" y="41.2" font-family='"Liberation Serif", serif' font-size="47" fill="#000" font-weight="bold" letter-spacing="0.5">(a)</text>
<text x="669.5" y="41.2" font-family='"Liberation Serif", serif' font-size="47" fill="#000" font-weight="bold" letter-spacing="0.5">(b)</text>
<text x="1363.3" y="41.2" font-family='"Liberation Serif", serif' font-size="47" fill="#000" font-weight="bold" letter-spacing="0.5">(c)</text>
<text x="2" y="573.4" font-family='"Liberation Serif", serif' font-size="47" fill="#000" font-weight="bold" letter-spacing="0.5">(d)</text>
<text x="671.5" y="574.2" font-family='"Liberation Serif", serif' font-size="47" fill="#000" font-weight="bold" letter-spacing="0.5">(e)</text>
<text x="1364" y="573.6" font-family='"Liberation Serif", serif' font-size="47" fill="#000" font-weight="bold" letter-spacing="0.5">(f)</text>
</svg>
</body>
</html>
